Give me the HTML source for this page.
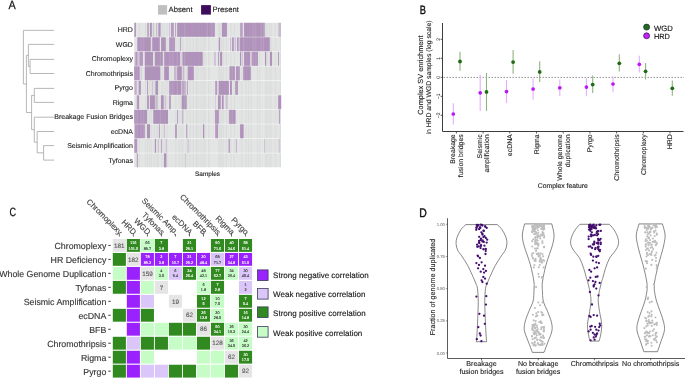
<!DOCTYPE html>
<html><head><meta charset="utf-8"><style>
html,body{margin:0;padding:0;background:#fff;}
body{width:685px;height:379px;overflow:hidden;}
svg{display:block;font-family:"Liberation Sans",sans-serif;will-change:transform;text-rendering:geometricPrecision;}
</style></head><body>
<svg width="685" height="379" viewBox="0 0 685 379">
<rect width="685" height="379" fill="#fff"/>
<text x="8.5" y="8.8" font-size="12" fill="#111" stroke="#111" stroke-width="0.25" transform="translate(8.5 0) scale(0.9 1) translate(-8.5 0)">A</text>
<rect x="158" y="5.1" width="9.1" height="9.5" fill="#bfbfbf"/>
<text stroke="#222" stroke-width="0.12" x="168.6" y="12.4" font-size="7.7" fill="#222">Absent</text>
<rect x="201.1" y="5.1" width="9.8" height="9.5" fill="#3d0c5c"/>
<text stroke="#222" stroke-width="0.12" x="212.4" y="12.4" font-size="7.7" fill="#222">Present</text>
<path d="M23.4 30.35L54.2 30.35M28.4 44.4L54.2 44.4M30.1 59.4L54.2 59.4M30.1 73.5L54.2 73.5M30.1 59.4L30.1 73.5M28.4 66.45L30.1 66.45M28.4 44.4L28.4 66.45M26.4 55.42L28.4 55.42M34.3 88.4L54.2 88.4M34.3 102.4L54.2 102.4M34.3 88.4L34.3 102.4M31.6 95.4L34.3 95.4M43.6 145.6L54.2 145.6M43.6 160.1L54.2 160.1M43.6 145.6L43.6 160.1M37.2 152.85L43.6 152.85M37.2 131.5L54.2 131.5M37.2 131.5L37.2 152.85M34.3 142.18L37.2 142.18M34.3 117.2L54.2 117.2M34.3 117.2L34.3 142.18M31.6 129.69L34.3 129.69M31.6 95.4L31.6 129.69M26.4 112.54L31.6 112.54M26.4 55.42L26.4 112.54M23.4 83.98L26.4 83.98M23.4 30.35L23.4 83.98" stroke="#a4a4a4" stroke-width="0.8" fill="none"/>
<text stroke="#222" stroke-width="0.11" x="132.9" y="32.1" font-size="7" fill="#222" text-anchor="end">HRD</text>
<text stroke="#222" stroke-width="0.11" x="132.9" y="46.6" font-size="7" fill="#222" text-anchor="end">WGD</text>
<text stroke="#222" stroke-width="0.11" x="132.9" y="61.1" font-size="7" fill="#222" text-anchor="end">Chromoplexy</text>
<text stroke="#222" stroke-width="0.11" x="132.9" y="75.6" font-size="7" fill="#222" text-anchor="end">Chromothripsis</text>
<text stroke="#222" stroke-width="0.11" x="132.9" y="90.1" font-size="7" fill="#222" text-anchor="end">Pyrgo</text>
<text stroke="#222" stroke-width="0.11" x="132.9" y="104.6" font-size="7" fill="#222" text-anchor="end">Rigma</text>
<text stroke="#222" stroke-width="0.11" x="132.9" y="119.1" font-size="7" fill="#222" text-anchor="end">Breakage Fusion Bridges</text>
<text stroke="#222" stroke-width="0.11" x="132.9" y="133.6" font-size="7" fill="#222" text-anchor="end">ecDNA</text>
<text stroke="#222" stroke-width="0.11" x="132.9" y="148.1" font-size="7" fill="#222" text-anchor="end">Seismic Amplification</text>
<text stroke="#222" stroke-width="0.11" x="132.9" y="162.6" font-size="7" fill="#222" text-anchor="end">Tyfonas</text>
<rect x="134.1" y="22.8" width="146.9" height="14" fill="#e2e3e3"/>
<rect x="134.3" y="22.8" width="1.7" height="14" fill="rgb(178,146,190)"/>
<rect x="147.2" y="22.8" width="1.7" height="14" fill="rgb(192,170,201)"/>
<rect x="150" y="22.8" width="1.8" height="14" fill="rgb(178,146,190)"/>
<rect x="153.3" y="22.8" width="0.7" height="14" fill="rgb(202,186,208)"/>
<rect x="156" y="22.8" width="0.9" height="14" fill="rgb(202,186,208)"/>
<rect x="158.4" y="22.8" width="2.3" height="14" fill="rgb(178,146,190)"/>
<rect x="169.1" y="22.8" width="0.8" height="14" fill="rgb(202,186,208)"/>
<rect x="171.1" y="22.8" width="2.6" height="14" fill="rgb(178,146,190)"/>
<rect x="175.2" y="22.8" width="0.7" height="14" fill="rgb(178,146,190)"/>
<rect x="177" y="22.8" width="38" height="14" fill="rgb(178,146,190)"/>
<rect x="222" y="22.8" width="4.9" height="14" fill="rgb(178,146,190)"/>
<rect x="240.1" y="22.8" width="2.5" height="14" fill="rgb(188,162,197)"/>
<rect x="244" y="22.8" width="20.7" height="14" fill="rgb(178,146,190)"/>
<rect x="278.2" y="22.8" width="2.7" height="14" fill="rgb(202,186,208)"/>
<rect x="134.1" y="37.3" width="146.9" height="14" fill="#e2e3e3"/>
<rect x="137.2" y="37.3" width="13.6" height="14" fill="rgb(178,146,190)"/>
<rect x="152.2" y="37.3" width="7.6" height="14" fill="rgb(178,146,190)"/>
<rect x="161.1" y="37.3" width="4.7" height="14" fill="rgb(178,146,190)"/>
<rect x="169.1" y="37.3" width="5.8" height="14" fill="rgb(178,146,190)"/>
<rect x="180.1" y="37.3" width="0.7" height="14" fill="rgb(178,146,190)"/>
<rect x="218.8" y="37.3" width="1.1" height="14" fill="rgb(178,146,190)"/>
<rect x="230" y="37.3" width="0.8" height="14" fill="rgb(202,186,208)"/>
<rect x="232" y="37.3" width="1.8" height="14" fill="rgb(178,146,190)"/>
<rect x="234.9" y="37.3" width="1.1" height="14" fill="rgb(202,186,208)"/>
<rect x="237.1" y="37.3" width="1.7" height="14" fill="rgb(178,146,190)"/>
<rect x="239.6" y="37.3" width="30.1" height="14" fill="rgb(178,146,190)"/>
<rect x="134.1" y="51.8" width="146.9" height="14" fill="#e2e3e3"/>
<rect x="134.6" y="51.8" width="0.8" height="14" fill="rgb(202,186,208)"/>
<rect x="135.4" y="51.8" width="2.2" height="14" fill="rgb(178,146,190)"/>
<rect x="138.3" y="51.8" width="1.5" height="14" fill="rgb(202,186,208)"/>
<rect x="139.8" y="51.8" width="3.1" height="14" fill="rgb(178,146,190)"/>
<rect x="144.8" y="51.8" width="8.2" height="14" fill="rgb(178,146,190)"/>
<rect x="154.9" y="51.8" width="7.9" height="14" fill="rgb(178,146,190)"/>
<rect x="164.2" y="51.8" width="15.9" height="14" fill="rgb(178,146,190)"/>
<rect x="181.7" y="51.8" width="1.1" height="14" fill="rgb(202,186,208)"/>
<rect x="182.8" y="51.8" width="19.9" height="14" fill="rgb(178,146,190)"/>
<rect x="214.1" y="51.8" width="1.7" height="14" fill="rgb(202,186,208)"/>
<rect x="218" y="51.8" width="0.8" height="14" fill="rgb(178,146,190)"/>
<rect x="220.1" y="51.8" width="1.9" height="14" fill="rgb(178,146,190)"/>
<rect x="240" y="51.8" width="1" height="14" fill="rgb(178,146,190)"/>
<rect x="241.8" y="51.8" width="0.8" height="14" fill="rgb(202,186,208)"/>
<rect x="244" y="51.8" width="6.2" height="14" fill="rgb(178,146,190)"/>
<rect x="251.7" y="51.8" width="6.2" height="14" fill="rgb(178,146,190)"/>
<rect x="265" y="51.8" width="1.1" height="14" fill="rgb(178,146,190)"/>
<rect x="270" y="51.8" width="2" height="14" fill="rgb(178,146,190)"/>
<rect x="278" y="51.8" width="1" height="14" fill="rgb(178,146,190)"/>
<rect x="134.1" y="66.3" width="146.9" height="14" fill="#e2e3e3"/>
<rect x="134.1" y="66.3" width="5.5" height="14" fill="rgb(178,146,190)"/>
<rect x="140.7" y="66.3" width="0.8" height="14" fill="rgb(202,186,208)"/>
<rect x="144.8" y="66.3" width="15.6" height="14" fill="rgb(178,146,190)"/>
<rect x="164.2" y="66.3" width="4.7" height="14" fill="rgb(178,146,190)"/>
<rect x="174" y="66.3" width="2.2" height="14" fill="rgb(202,186,208)"/>
<rect x="176.8" y="66.3" width="4.9" height="14" fill="rgb(178,146,190)"/>
<rect x="182.8" y="66.3" width="1.7" height="14" fill="rgb(202,186,208)"/>
<rect x="187.7" y="66.3" width="6.1" height="14" fill="rgb(178,146,190)"/>
<rect x="229.4" y="66.3" width="5.5" height="14" fill="rgb(178,146,190)"/>
<rect x="236" y="66.3" width="3.8" height="14" fill="rgb(178,146,190)"/>
<rect x="243.1" y="66.3" width="7.7" height="14" fill="rgb(178,146,190)"/>
<rect x="134.1" y="80.8" width="146.9" height="14" fill="#e2e3e3"/>
<rect x="134.6" y="80.8" width="1.1" height="14" fill="rgb(178,146,190)"/>
<rect x="136" y="80.8" width="1.2" height="14" fill="rgb(202,186,208)"/>
<rect x="138.7" y="80.8" width="2.2" height="14" fill="rgb(178,146,190)"/>
<rect x="147" y="80.8" width="0.8" height="14" fill="rgb(178,146,190)"/>
<rect x="152.2" y="80.8" width="0.8" height="14" fill="rgb(202,186,208)"/>
<rect x="155.4" y="80.8" width="2.6" height="14" fill="rgb(178,146,190)"/>
<rect x="169.1" y="80.8" width="12.1" height="14" fill="rgb(178,146,190)"/>
<rect x="181.7" y="80.8" width="3.9" height="14" fill="rgb(192,170,201)"/>
<rect x="186.9" y="80.8" width="0.8" height="14" fill="rgb(178,146,190)"/>
<rect x="215.2" y="80.8" width="1.9" height="14" fill="rgb(178,146,190)"/>
<rect x="218.7" y="80.8" width="10.2" height="14" fill="rgb(178,146,190)"/>
<rect x="230" y="80.8" width="2" height="14" fill="rgb(178,146,190)"/>
<rect x="235.2" y="80.8" width="2.7" height="14" fill="rgb(178,146,190)"/>
<rect x="134.1" y="95.3" width="146.9" height="14" fill="#e2e3e3"/>
<rect x="136.8" y="95.3" width="2.2" height="14" fill="rgb(178,146,190)"/>
<rect x="147.2" y="95.3" width="1.7" height="14" fill="rgb(178,146,190)"/>
<rect x="150" y="95.3" width="4.9" height="14" fill="rgb(178,146,190)"/>
<rect x="155.4" y="95.3" width="2.2" height="14" fill="rgb(202,186,208)"/>
<rect x="160.9" y="95.3" width="2.8" height="14" fill="rgb(178,146,190)"/>
<rect x="164.8" y="95.3" width="1" height="14" fill="rgb(202,186,208)"/>
<rect x="169.1" y="95.3" width="1.7" height="14" fill="rgb(178,146,190)"/>
<rect x="181.7" y="95.3" width="5" height="14" fill="rgb(178,146,190)"/>
<rect x="214.9" y="95.3" width="0.6" height="14" fill="rgb(202,186,208)"/>
<rect x="218" y="95.3" width="2.7" height="14" fill="rgb(178,146,190)"/>
<rect x="222" y="95.3" width="1.6" height="14" fill="rgb(178,146,190)"/>
<rect x="225.6" y="95.3" width="2.2" height="14" fill="rgb(207,195,212)"/>
<rect x="278" y="95.3" width="3.2" height="14" fill="rgb(178,146,190)"/>
<rect x="134.1" y="109.8" width="146.9" height="14" fill="#e2e3e3"/>
<rect x="134.1" y="109.8" width="12.9" height="14" fill="rgb(178,146,190)"/>
<rect x="153.3" y="109.8" width="14.7" height="14" fill="rgb(178,146,190)"/>
<rect x="177" y="109.8" width="0.9" height="14" fill="rgb(178,146,190)"/>
<rect x="182" y="109.8" width="1.4" height="14" fill="rgb(202,186,208)"/>
<rect x="214.9" y="109.8" width="3.9" height="14" fill="rgb(178,146,190)"/>
<rect x="228.9" y="109.8" width="6.8" height="14" fill="rgb(178,146,190)"/>
<rect x="278.9" y="109.8" width="0.9" height="14" fill="rgb(178,146,190)"/>
<rect x="134.1" y="124.3" width="146.9" height="14" fill="#e2e3e3"/>
<rect x="134.6" y="124.3" width="10.2" height="14" fill="rgb(178,146,190)"/>
<rect x="147" y="124.3" width="3" height="14" fill="rgb(178,146,190)"/>
<rect x="159" y="124.3" width="0.8" height="14" fill="rgb(178,146,190)"/>
<rect x="163.9" y="124.3" width="0.9" height="14" fill="rgb(202,186,208)"/>
<rect x="175.2" y="124.3" width="1.6" height="14" fill="rgb(178,146,190)"/>
<rect x="186.3" y="124.3" width="0.9" height="14" fill="rgb(178,146,190)"/>
<rect x="203" y="124.3" width="1.2" height="14" fill="rgb(178,146,190)"/>
<rect x="215.2" y="124.3" width="2.8" height="14" fill="rgb(178,146,190)"/>
<rect x="240.1" y="124.3" width="3.6" height="14" fill="rgb(178,146,190)"/>
<rect x="134.1" y="138.8" width="146.9" height="14" fill="#e2e3e3"/>
<rect x="134.3" y="138.8" width="2.9" height="14" fill="rgb(178,146,190)"/>
<rect x="154.9" y="138.8" width="1.1" height="14" fill="rgb(178,146,190)"/>
<rect x="158" y="138.8" width="0.7" height="14" fill="rgb(202,186,208)"/>
<rect x="160.9" y="138.8" width="0.8" height="14" fill="rgb(178,146,190)"/>
<rect x="165.8" y="138.8" width="0.9" height="14" fill="rgb(202,186,208)"/>
<rect x="187.7" y="138.8" width="0.9" height="14" fill="rgb(202,186,208)"/>
<rect x="228.6" y="138.8" width="1.4" height="14" fill="rgb(178,146,190)"/>
<rect x="235.8" y="138.8" width="1.1" height="14" fill="rgb(197,178,205)"/>
<rect x="264" y="138.8" width="1" height="14" fill="rgb(207,195,212)"/>
<rect x="278.5" y="138.8" width="1.3" height="14" fill="rgb(207,195,212)"/>
<rect x="134.1" y="153.3" width="146.9" height="14" fill="#e2e3e3"/>
<rect x="136.8" y="153.3" width="1.1" height="14" fill="rgb(178,146,190)"/>
<rect x="164" y="153.3" width="2.4" height="14" fill="rgb(178,146,190)"/>
<rect x="184.8" y="153.3" width="0.8" height="14" fill="rgb(202,186,208)"/>
<path d="M134.9 22.8v14M137.19 22.8v14M140.93 22.8v14M143.8 22.8v14M160.59 22.8v14M170 22.8v14M172.8 22.8v14M177.27 22.8v14M184.75 22.8v14M207.33 22.8v14M211.84 22.8v14M214.64 22.8v14M216.14 22.8v14M229.68 22.8v14M232.29 22.8v14M235.82 22.8v14M238.76 22.8v14M243.83 22.8v14M253.12 22.8v14M255.76 22.8v14M261.02 22.8v14M263.38 22.8v14M273.85 22.8v14M278.3 22.8v14" stroke="#ffffff" stroke-opacity="0.22" stroke-width="0.6"/>
<path d="M139.6 22.8v14M145.47 22.8v14M147.61 22.8v14M149.76 22.8v14M151.27 22.8v14M154.2 22.8v14M156.88 22.8v14M158.21 22.8v14M161.86 22.8v14M164 22.8v14M166.96 22.8v14M175.87 22.8v14M178.9 22.8v14M180.98 22.8v14M182.78 22.8v14M187.12 22.8v14M190.13 22.8v14M193.19 22.8v14M196.37 22.8v14M197.89 22.8v14M201.02 22.8v14M203.36 22.8v14M204.98 22.8v14M208.66 22.8v14M218.88 22.8v14M220.17 22.8v14M221.46 22.8v14M223.32 22.8v14M226.48 22.8v14M231.03 22.8v14M234.31 22.8v14M241.87 22.8v14M246.07 22.8v14M248.46 22.8v14M250.9 22.8v14M257.56 22.8v14M259.8 22.8v14M265.81 22.8v14M267.14 22.8v14M269.27 22.8v14M271.17 22.8v14M275.17 22.8v14M280.41 22.8v14" stroke="#8a8a8a" stroke-opacity="0.13" stroke-width="0.6"/>
<path d="M135.4 22.8v14M148.11 22.8v14M151.77 22.8v14M173.3 22.8v14M179.4 22.8v14M181.48 22.8v14M185.25 22.8v14M187.62 22.8v14M193.69 22.8v14M196.87 22.8v14M201.52 22.8v14M203.86 22.8v14M205.48 22.8v14M209.16 22.8v14M212.34 22.8v14M223.82 22.8v14M242.37 22.8v14M248.96 22.8v14M251.4 22.8v14M258.06 22.8v14M260.3 22.8v14M261.52 22.8v14M263.88 22.8v14" stroke="#a8a8a8" stroke-opacity="0.4" stroke-width="0.7"/>
<path d="M134.9 37.3v14M137.19 37.3v14M140.93 37.3v14M143.8 37.3v14M160.59 37.3v14M170 37.3v14M172.8 37.3v14M177.27 37.3v14M184.75 37.3v14M207.33 37.3v14M211.84 37.3v14M214.64 37.3v14M216.14 37.3v14M229.68 37.3v14M232.29 37.3v14M235.82 37.3v14M238.76 37.3v14M243.83 37.3v14M253.12 37.3v14M255.76 37.3v14M261.02 37.3v14M263.38 37.3v14M273.85 37.3v14M278.3 37.3v14" stroke="#ffffff" stroke-opacity="0.22" stroke-width="0.6"/>
<path d="M139.6 37.3v14M145.47 37.3v14M147.61 37.3v14M149.76 37.3v14M151.27 37.3v14M154.2 37.3v14M156.88 37.3v14M158.21 37.3v14M161.86 37.3v14M164 37.3v14M166.96 37.3v14M175.87 37.3v14M178.9 37.3v14M180.98 37.3v14M182.78 37.3v14M187.12 37.3v14M190.13 37.3v14M193.19 37.3v14M196.37 37.3v14M197.89 37.3v14M201.02 37.3v14M203.36 37.3v14M204.98 37.3v14M208.66 37.3v14M218.88 37.3v14M220.17 37.3v14M221.46 37.3v14M223.32 37.3v14M226.48 37.3v14M231.03 37.3v14M234.31 37.3v14M241.87 37.3v14M246.07 37.3v14M248.46 37.3v14M250.9 37.3v14M257.56 37.3v14M259.8 37.3v14M265.81 37.3v14M267.14 37.3v14M269.27 37.3v14M271.17 37.3v14M275.17 37.3v14M280.41 37.3v14" stroke="#8a8a8a" stroke-opacity="0.13" stroke-width="0.6"/>
<path d="M140.1 37.3v14M145.97 37.3v14M148.11 37.3v14M158.71 37.3v14M162.36 37.3v14M164.5 37.3v14M173.3 37.3v14M242.37 37.3v14M244.33 37.3v14M246.57 37.3v14M248.96 37.3v14M253.62 37.3v14M256.26 37.3v14M263.88 37.3v14M269.77 37.3v14" stroke="#a8a8a8" stroke-opacity="0.4" stroke-width="0.7"/>
<path d="M134.9 51.8v14M137.19 51.8v14M140.93 51.8v14M143.8 51.8v14M160.59 51.8v14M170 51.8v14M172.8 51.8v14M177.27 51.8v14M184.75 51.8v14M207.33 51.8v14M211.84 51.8v14M214.64 51.8v14M216.14 51.8v14M229.68 51.8v14M232.29 51.8v14M235.82 51.8v14M238.76 51.8v14M243.83 51.8v14M253.12 51.8v14M255.76 51.8v14M261.02 51.8v14M263.38 51.8v14M273.85 51.8v14M278.3 51.8v14" stroke="#ffffff" stroke-opacity="0.22" stroke-width="0.6"/>
<path d="M139.6 51.8v14M145.47 51.8v14M147.61 51.8v14M149.76 51.8v14M151.27 51.8v14M154.2 51.8v14M156.88 51.8v14M158.21 51.8v14M161.86 51.8v14M164 51.8v14M166.96 51.8v14M175.87 51.8v14M178.9 51.8v14M180.98 51.8v14M182.78 51.8v14M187.12 51.8v14M190.13 51.8v14M193.19 51.8v14M196.37 51.8v14M197.89 51.8v14M201.02 51.8v14M203.36 51.8v14M204.98 51.8v14M208.66 51.8v14M218.88 51.8v14M220.17 51.8v14M221.46 51.8v14M223.32 51.8v14M226.48 51.8v14M231.03 51.8v14M234.31 51.8v14M241.87 51.8v14M246.07 51.8v14M248.46 51.8v14M250.9 51.8v14M257.56 51.8v14M259.8 51.8v14M265.81 51.8v14M267.14 51.8v14M269.27 51.8v14M271.17 51.8v14M275.17 51.8v14M280.41 51.8v14" stroke="#8a8a8a" stroke-opacity="0.13" stroke-width="0.6"/>
<path d="M148.11 51.8v14M150.26 51.8v14M151.77 51.8v14M157.38 51.8v14M158.71 51.8v14M161.09 51.8v14M162.36 51.8v14M170.5 51.8v14M187.62 51.8v14M190.63 51.8v14M196.87 51.8v14M198.39 51.8v14M221.96 51.8v14M246.57 51.8v14M256.26 51.8v14M271.67 51.8v14" stroke="#a8a8a8" stroke-opacity="0.4" stroke-width="0.7"/>
<path d="M134.9 66.3v14M137.19 66.3v14M140.93 66.3v14M143.8 66.3v14M160.59 66.3v14M170 66.3v14M172.8 66.3v14M177.27 66.3v14M184.75 66.3v14M207.33 66.3v14M211.84 66.3v14M214.64 66.3v14M216.14 66.3v14M229.68 66.3v14M232.29 66.3v14M235.82 66.3v14M238.76 66.3v14M243.83 66.3v14M253.12 66.3v14M255.76 66.3v14M261.02 66.3v14M263.38 66.3v14M273.85 66.3v14M278.3 66.3v14" stroke="#ffffff" stroke-opacity="0.22" stroke-width="0.6"/>
<path d="M139.6 66.3v14M145.47 66.3v14M147.61 66.3v14M149.76 66.3v14M151.27 66.3v14M154.2 66.3v14M156.88 66.3v14M158.21 66.3v14M161.86 66.3v14M164 66.3v14M166.96 66.3v14M175.87 66.3v14M178.9 66.3v14M180.98 66.3v14M182.78 66.3v14M187.12 66.3v14M190.13 66.3v14M193.19 66.3v14M196.37 66.3v14M197.89 66.3v14M201.02 66.3v14M203.36 66.3v14M204.98 66.3v14M208.66 66.3v14M218.88 66.3v14M220.17 66.3v14M221.46 66.3v14M223.32 66.3v14M226.48 66.3v14M231.03 66.3v14M234.31 66.3v14M241.87 66.3v14M246.07 66.3v14M248.46 66.3v14M250.9 66.3v14M257.56 66.3v14M259.8 66.3v14M265.81 66.3v14M267.14 66.3v14M269.27 66.3v14M271.17 66.3v14M275.17 66.3v14M280.41 66.3v14" stroke="#8a8a8a" stroke-opacity="0.13" stroke-width="0.6"/>
<path d="M137.69 66.3v14M148.11 66.3v14M150.26 66.3v14M151.77 66.3v14M157.38 66.3v14M181.48 66.3v14M231.53 66.3v14M232.79 66.3v14M234.81 66.3v14M239.26 66.3v14M244.33 66.3v14M246.57 66.3v14" stroke="#a8a8a8" stroke-opacity="0.4" stroke-width="0.7"/>
<path d="M134.9 80.8v14M137.19 80.8v14M140.93 80.8v14M143.8 80.8v14M160.59 80.8v14M170 80.8v14M172.8 80.8v14M177.27 80.8v14M184.75 80.8v14M207.33 80.8v14M211.84 80.8v14M214.64 80.8v14M216.14 80.8v14M229.68 80.8v14M232.29 80.8v14M235.82 80.8v14M238.76 80.8v14M243.83 80.8v14M253.12 80.8v14M255.76 80.8v14M261.02 80.8v14M263.38 80.8v14M273.85 80.8v14M278.3 80.8v14" stroke="#ffffff" stroke-opacity="0.22" stroke-width="0.6"/>
<path d="M139.6 80.8v14M145.47 80.8v14M147.61 80.8v14M149.76 80.8v14M151.27 80.8v14M154.2 80.8v14M156.88 80.8v14M158.21 80.8v14M161.86 80.8v14M164 80.8v14M166.96 80.8v14M175.87 80.8v14M178.9 80.8v14M180.98 80.8v14M182.78 80.8v14M187.12 80.8v14M190.13 80.8v14M193.19 80.8v14M196.37 80.8v14M197.89 80.8v14M201.02 80.8v14M203.36 80.8v14M204.98 80.8v14M208.66 80.8v14M218.88 80.8v14M220.17 80.8v14M221.46 80.8v14M223.32 80.8v14M226.48 80.8v14M231.03 80.8v14M234.31 80.8v14M241.87 80.8v14M246.07 80.8v14M248.46 80.8v14M250.9 80.8v14M257.56 80.8v14M259.8 80.8v14M265.81 80.8v14M267.14 80.8v14M269.27 80.8v14M271.17 80.8v14M275.17 80.8v14M280.41 80.8v14" stroke="#8a8a8a" stroke-opacity="0.13" stroke-width="0.6"/>
<path d="M140.1 80.8v14M157.38 80.8v14M170.5 80.8v14M173.3 80.8v14M176.37 80.8v14M183.28 80.8v14M185.25 80.8v14M216.64 80.8v14M220.67 80.8v14M221.96 80.8v14M226.98 80.8v14M231.53 80.8v14M236.32 80.8v14" stroke="#a8a8a8" stroke-opacity="0.4" stroke-width="0.7"/>
<path d="M134.9 95.3v14M137.19 95.3v14M140.93 95.3v14M143.8 95.3v14M160.59 95.3v14M170 95.3v14M172.8 95.3v14M177.27 95.3v14M184.75 95.3v14M207.33 95.3v14M211.84 95.3v14M214.64 95.3v14M216.14 95.3v14M229.68 95.3v14M232.29 95.3v14M235.82 95.3v14M238.76 95.3v14M243.83 95.3v14M253.12 95.3v14M255.76 95.3v14M261.02 95.3v14M263.38 95.3v14M273.85 95.3v14M278.3 95.3v14" stroke="#ffffff" stroke-opacity="0.22" stroke-width="0.6"/>
<path d="M139.6 95.3v14M145.47 95.3v14M147.61 95.3v14M149.76 95.3v14M151.27 95.3v14M154.2 95.3v14M156.88 95.3v14M158.21 95.3v14M161.86 95.3v14M164 95.3v14M166.96 95.3v14M175.87 95.3v14M178.9 95.3v14M180.98 95.3v14M182.78 95.3v14M187.12 95.3v14M190.13 95.3v14M193.19 95.3v14M196.37 95.3v14M197.89 95.3v14M201.02 95.3v14M203.36 95.3v14M204.98 95.3v14M208.66 95.3v14M218.88 95.3v14M220.17 95.3v14M221.46 95.3v14M223.32 95.3v14M226.48 95.3v14M231.03 95.3v14M234.31 95.3v14M241.87 95.3v14M246.07 95.3v14M248.46 95.3v14M250.9 95.3v14M257.56 95.3v14M259.8 95.3v14M265.81 95.3v14M267.14 95.3v14M269.27 95.3v14M271.17 95.3v14M275.17 95.3v14M280.41 95.3v14" stroke="#8a8a8a" stroke-opacity="0.13" stroke-width="0.6"/>
<path d="M148.11 95.3v14M151.77 95.3v14M154.7 95.3v14M170.5 95.3v14M183.28 95.3v14M185.25 95.3v14M219.38 95.3v14" stroke="#a8a8a8" stroke-opacity="0.4" stroke-width="0.7"/>
<path d="M134.9 109.8v14M137.19 109.8v14M140.93 109.8v14M143.8 109.8v14M160.59 109.8v14M170 109.8v14M172.8 109.8v14M177.27 109.8v14M184.75 109.8v14M207.33 109.8v14M211.84 109.8v14M214.64 109.8v14M216.14 109.8v14M229.68 109.8v14M232.29 109.8v14M235.82 109.8v14M238.76 109.8v14M243.83 109.8v14M253.12 109.8v14M255.76 109.8v14M261.02 109.8v14M263.38 109.8v14M273.85 109.8v14M278.3 109.8v14" stroke="#ffffff" stroke-opacity="0.22" stroke-width="0.6"/>
<path d="M139.6 109.8v14M145.47 109.8v14M147.61 109.8v14M149.76 109.8v14M151.27 109.8v14M154.2 109.8v14M156.88 109.8v14M158.21 109.8v14M161.86 109.8v14M164 109.8v14M166.96 109.8v14M175.87 109.8v14M178.9 109.8v14M180.98 109.8v14M182.78 109.8v14M187.12 109.8v14M190.13 109.8v14M193.19 109.8v14M196.37 109.8v14M197.89 109.8v14M201.02 109.8v14M203.36 109.8v14M204.98 109.8v14M208.66 109.8v14M218.88 109.8v14M220.17 109.8v14M221.46 109.8v14M223.32 109.8v14M226.48 109.8v14M231.03 109.8v14M234.31 109.8v14M241.87 109.8v14M246.07 109.8v14M248.46 109.8v14M250.9 109.8v14M257.56 109.8v14M259.8 109.8v14M265.81 109.8v14M267.14 109.8v14M269.27 109.8v14M271.17 109.8v14M275.17 109.8v14M280.41 109.8v14" stroke="#8a8a8a" stroke-opacity="0.13" stroke-width="0.6"/>
<path d="M135.4 109.8v14M141.43 109.8v14M144.3 109.8v14M145.97 109.8v14M157.38 109.8v14M161.09 109.8v14M162.36 109.8v14M164.5 109.8v14M216.64 109.8v14M230.18 109.8v14M231.53 109.8v14" stroke="#a8a8a8" stroke-opacity="0.4" stroke-width="0.7"/>
<path d="M134.9 124.3v14M137.19 124.3v14M140.93 124.3v14M143.8 124.3v14M160.59 124.3v14M170 124.3v14M172.8 124.3v14M177.27 124.3v14M184.75 124.3v14M207.33 124.3v14M211.84 124.3v14M214.64 124.3v14M216.14 124.3v14M229.68 124.3v14M232.29 124.3v14M235.82 124.3v14M238.76 124.3v14M243.83 124.3v14M253.12 124.3v14M255.76 124.3v14M261.02 124.3v14M263.38 124.3v14M273.85 124.3v14M278.3 124.3v14" stroke="#ffffff" stroke-opacity="0.22" stroke-width="0.6"/>
<path d="M139.6 124.3v14M145.47 124.3v14M147.61 124.3v14M149.76 124.3v14M151.27 124.3v14M154.2 124.3v14M156.88 124.3v14M158.21 124.3v14M161.86 124.3v14M164 124.3v14M166.96 124.3v14M175.87 124.3v14M178.9 124.3v14M180.98 124.3v14M182.78 124.3v14M187.12 124.3v14M190.13 124.3v14M193.19 124.3v14M196.37 124.3v14M197.89 124.3v14M201.02 124.3v14M203.36 124.3v14M204.98 124.3v14M208.66 124.3v14M218.88 124.3v14M220.17 124.3v14M221.46 124.3v14M223.32 124.3v14M226.48 124.3v14M231.03 124.3v14M234.31 124.3v14M241.87 124.3v14M246.07 124.3v14M248.46 124.3v14M250.9 124.3v14M257.56 124.3v14M259.8 124.3v14M265.81 124.3v14M267.14 124.3v14M269.27 124.3v14M271.17 124.3v14M275.17 124.3v14M280.41 124.3v14" stroke="#8a8a8a" stroke-opacity="0.13" stroke-width="0.6"/>
<path d="M137.69 124.3v14M144.3 124.3v14M148.11 124.3v14M176.37 124.3v14" stroke="#a8a8a8" stroke-opacity="0.4" stroke-width="0.7"/>
<path d="M134.9 138.8v14M137.19 138.8v14M140.93 138.8v14M143.8 138.8v14M160.59 138.8v14M170 138.8v14M172.8 138.8v14M177.27 138.8v14M184.75 138.8v14M207.33 138.8v14M211.84 138.8v14M214.64 138.8v14M216.14 138.8v14M229.68 138.8v14M232.29 138.8v14M235.82 138.8v14M238.76 138.8v14M243.83 138.8v14M253.12 138.8v14M255.76 138.8v14M261.02 138.8v14M263.38 138.8v14M273.85 138.8v14M278.3 138.8v14" stroke="#ffffff" stroke-opacity="0.22" stroke-width="0.6"/>
<path d="M139.6 138.8v14M145.47 138.8v14M147.61 138.8v14M149.76 138.8v14M151.27 138.8v14M154.2 138.8v14M156.88 138.8v14M158.21 138.8v14M161.86 138.8v14M164 138.8v14M166.96 138.8v14M175.87 138.8v14M178.9 138.8v14M180.98 138.8v14M182.78 138.8v14M187.12 138.8v14M190.13 138.8v14M193.19 138.8v14M196.37 138.8v14M197.89 138.8v14M201.02 138.8v14M203.36 138.8v14M204.98 138.8v14M208.66 138.8v14M218.88 138.8v14M220.17 138.8v14M221.46 138.8v14M223.32 138.8v14M226.48 138.8v14M231.03 138.8v14M234.31 138.8v14M241.87 138.8v14M246.07 138.8v14M248.46 138.8v14M250.9 138.8v14M257.56 138.8v14M259.8 138.8v14M265.81 138.8v14M267.14 138.8v14M269.27 138.8v14M271.17 138.8v14M275.17 138.8v14M280.41 138.8v14" stroke="#8a8a8a" stroke-opacity="0.13" stroke-width="0.6"/>
<path d="M134.9 153.3v14M137.19 153.3v14M140.93 153.3v14M143.8 153.3v14M160.59 153.3v14M170 153.3v14M172.8 153.3v14M177.27 153.3v14M184.75 153.3v14M207.33 153.3v14M211.84 153.3v14M214.64 153.3v14M216.14 153.3v14M229.68 153.3v14M232.29 153.3v14M235.82 153.3v14M238.76 153.3v14M243.83 153.3v14M253.12 153.3v14M255.76 153.3v14M261.02 153.3v14M263.38 153.3v14M273.85 153.3v14M278.3 153.3v14" stroke="#ffffff" stroke-opacity="0.22" stroke-width="0.6"/>
<path d="M139.6 153.3v14M145.47 153.3v14M147.61 153.3v14M149.76 153.3v14M151.27 153.3v14M154.2 153.3v14M156.88 153.3v14M158.21 153.3v14M161.86 153.3v14M164 153.3v14M166.96 153.3v14M175.87 153.3v14M178.9 153.3v14M180.98 153.3v14M182.78 153.3v14M187.12 153.3v14M190.13 153.3v14M193.19 153.3v14M196.37 153.3v14M197.89 153.3v14M201.02 153.3v14M203.36 153.3v14M204.98 153.3v14M208.66 153.3v14M218.88 153.3v14M220.17 153.3v14M221.46 153.3v14M223.32 153.3v14M226.48 153.3v14M231.03 153.3v14M234.31 153.3v14M241.87 153.3v14M246.07 153.3v14M248.46 153.3v14M250.9 153.3v14M257.56 153.3v14M259.8 153.3v14M265.81 153.3v14M267.14 153.3v14M269.27 153.3v14M271.17 153.3v14M275.17 153.3v14M280.41 153.3v14" stroke="#8a8a8a" stroke-opacity="0.13" stroke-width="0.6"/>
<text stroke="#111" stroke-width="0.1" x="207.5" y="175.6" font-size="6.4" fill="#111" text-anchor="middle">Samples</text>
<text x="419.7" y="13.7" font-size="11.9" fill="#111" stroke="#111" stroke-width="0.4" transform="translate(419.7 0) scale(0.78 1) translate(-419.7 0)">B</text>
<path d="M442.5 23V131.5H683.5" stroke="#333" stroke-width="0.95" fill="none"/>
<path d="M440.6 39.3H442.5" stroke="#333" stroke-width="0.8"/>
<text stroke="#444" stroke-width="0.08" transform="translate(440 39.3) rotate(-90)" font-size="5" fill="#444" text-anchor="middle">2</text>
<path d="M440.6 58.3H442.5" stroke="#333" stroke-width="0.8"/>
<text stroke="#444" stroke-width="0.08" transform="translate(440 58.3) rotate(-90)" font-size="5" fill="#444" text-anchor="middle">1</text>
<path d="M440.6 77.3H442.5" stroke="#333" stroke-width="0.8"/>
<text stroke="#444" stroke-width="0.08" transform="translate(440 77.3) rotate(-90)" font-size="5" fill="#444" text-anchor="middle">0</text>
<path d="M440.6 96.3H442.5" stroke="#333" stroke-width="0.8"/>
<text stroke="#444" stroke-width="0.08" transform="translate(440 96.3) rotate(-90)" font-size="5" fill="#444" text-anchor="middle">−1</text>
<path d="M440.6 115.3H442.5" stroke="#333" stroke-width="0.8"/>
<text stroke="#444" stroke-width="0.08" transform="translate(440 115.3) rotate(-90)" font-size="5" fill="#444" text-anchor="middle">−2</text>
<path d="M443.5 77.4H684" stroke="#777" stroke-width="0.8" stroke-dasharray="1.5 1.5"/>
<text stroke="#222" stroke-width="0.12" transform="translate(422.7 75.1) rotate(-90)" font-size="7.35" fill="#222" text-anchor="middle">Complex SV enrichment</text>
<text stroke="#222" stroke-width="0.11" transform="translate(431.3 77.5) rotate(-90)" font-size="6.8" fill="#222" text-anchor="middle">in HRD and WGD samples (log scale)</text>
<text stroke="#222" stroke-width="0.11" x="562.8" y="187.8" font-size="6.8" fill="#222" text-anchor="middle">Complex feature</text>
<path d="M456.4 131.5V133.5" stroke="#333" stroke-width="0.8"/>
<text stroke="#222" stroke-width="0.11" transform="translate(455 134.3) rotate(-90)" font-size="6.9" fill="#222" text-anchor="end">Breakage</text>
<text stroke="#222" stroke-width="0.11" transform="translate(462.7 134.3) rotate(-90)" font-size="6.9" fill="#222" text-anchor="end">fusion bridges</text>
<path d="M483.1 131.5V133.5" stroke="#333" stroke-width="0.8"/>
<text stroke="#222" stroke-width="0.11" transform="translate(481.7 134.3) rotate(-90)" font-size="6.9" fill="#222" text-anchor="end">Seismic</text>
<text stroke="#222" stroke-width="0.11" transform="translate(489.4 134.3) rotate(-90)" font-size="6.9" fill="#222" text-anchor="end">amplification</text>
<path d="M509.8 131.5V133.5" stroke="#333" stroke-width="0.8"/>
<text stroke="#222" stroke-width="0.11" transform="translate(512.2 134.3) rotate(-90)" font-size="6.9" fill="#222" text-anchor="end">ecDNA</text>
<path d="M536.5 131.5V133.5" stroke="#333" stroke-width="0.8"/>
<text stroke="#222" stroke-width="0.11" transform="translate(538.9 134.3) rotate(-90)" font-size="6.9" fill="#222" text-anchor="end">Rigma</text>
<path d="M563.2 131.5V133.5" stroke="#333" stroke-width="0.8"/>
<text stroke="#222" stroke-width="0.11" transform="translate(561.8 134.3) rotate(-90)" font-size="6.9" fill="#222" text-anchor="end">Whole genome</text>
<text stroke="#222" stroke-width="0.11" transform="translate(569.5 134.3) rotate(-90)" font-size="6.9" fill="#222" text-anchor="end">duplication</text>
<path d="M589.9 131.5V133.5" stroke="#333" stroke-width="0.8"/>
<text stroke="#222" stroke-width="0.11" transform="translate(592.3 134.3) rotate(-90)" font-size="6.9" fill="#222" text-anchor="end">Pyrgo</text>
<path d="M616.6 131.5V133.5" stroke="#333" stroke-width="0.8"/>
<text stroke="#222" stroke-width="0.11" transform="translate(619 134.3) rotate(-90)" font-size="6.9" fill="#222" text-anchor="end">Chromothripsis</text>
<path d="M643.3 131.5V133.5" stroke="#333" stroke-width="0.8"/>
<text stroke="#222" stroke-width="0.11" transform="translate(645.7 134.3) rotate(-90)" font-size="6.9" fill="#222" text-anchor="end">Chromoplexy</text>
<path d="M670 131.5V133.5" stroke="#333" stroke-width="0.8"/>
<text stroke="#222" stroke-width="0.11" transform="translate(672.4 134.3) rotate(-90)" font-size="6.9" fill="#222" text-anchor="end">HRD</text>
<path d="M453.3 103.3V124.5" stroke="#e4aeff" stroke-width="1.1"/>
<circle cx="453.3" cy="114" r="1.85" fill="#bb14f6"/>
<path d="M480.2 74.8V110.9" stroke="#e4aeff" stroke-width="1.1"/>
<circle cx="480.2" cy="92.8" r="1.85" fill="#bb14f6"/>
<path d="M506.5 80V103" stroke="#e4aeff" stroke-width="1.1"/>
<circle cx="506.5" cy="91.6" r="1.85" fill="#bb14f6"/>
<path d="M533.1 78.6V99.8" stroke="#e4aeff" stroke-width="1.1"/>
<circle cx="533.1" cy="89" r="1.85" fill="#bb14f6"/>
<path d="M559.8 79.5V96" stroke="#e4aeff" stroke-width="1.1"/>
<circle cx="559.8" cy="87.8" r="1.85" fill="#bb14f6"/>
<path d="M586.4 78V96.3" stroke="#e4aeff" stroke-width="1.1"/>
<circle cx="586.4" cy="87.1" r="1.85" fill="#bb14f6"/>
<path d="M613 76.4V92.2" stroke="#e4aeff" stroke-width="1.1"/>
<circle cx="613" cy="84" r="1.85" fill="#bb14f6"/>
<path d="M639.3 55.8V72.6" stroke="#e4aeff" stroke-width="1.1"/>
<circle cx="639.3" cy="64.3" r="1.85" fill="#bb14f6"/>
<path d="M460 51.7V70.7" stroke="#8fb37f" stroke-width="1.1"/>
<circle cx="460" cy="61.5" r="1.9" fill="#1f6a14"/>
<path d="M486.5 72.9V110.9" stroke="#8fb37f" stroke-width="1.1"/>
<circle cx="486.5" cy="91.9" r="1.9" fill="#1f6a14"/>
<path d="M513.1 50V73.8" stroke="#8fb37f" stroke-width="1.1"/>
<circle cx="513.1" cy="62.1" r="1.9" fill="#1f6a14"/>
<path d="M539.7 61.2V82" stroke="#8fb37f" stroke-width="1.1"/>
<circle cx="539.7" cy="71.9" r="1.9" fill="#1f6a14"/>
<path d="M592.7 75.4V93.1" stroke="#8fb37f" stroke-width="1.1"/>
<circle cx="592.7" cy="84.6" r="1.9" fill="#1f6a14"/>
<path d="M619.3 54.2V71.6" stroke="#8fb37f" stroke-width="1.1"/>
<circle cx="619.3" cy="63.3" r="1.9" fill="#1f6a14"/>
<path d="M645.6 63V79.5" stroke="#8fb37f" stroke-width="1.1"/>
<circle cx="645.6" cy="71.3" r="1.9" fill="#1f6a14"/>
<path d="M672.3 80.4V95.8" stroke="#8fb37f" stroke-width="1.1"/>
<circle cx="672.3" cy="88.3" r="1.9" fill="#1f6a14"/>
<circle cx="646.6" cy="27.1" r="3.0" fill="#216e17" stroke="#1d2340" stroke-width="0.7"/>
<circle cx="646.6" cy="35.8" r="3.0" fill="#c41ff5" stroke="#2a1a50" stroke-width="0.7"/>
<text stroke="#111" stroke-width="0.12" x="653.9" y="30.5" font-size="7.7" fill="#111">WGD</text>
<text stroke="#111" stroke-width="0.12" x="653.9" y="39.1" font-size="7.4" fill="#111">HRD</text>
<text x="9.4" y="215.8" font-size="12" fill="#111" stroke="#111" stroke-width="0.25" transform="translate(9.4 0) scale(0.76 1) translate(-9.4 0)">C</text>
<text stroke="#363636" stroke-width="0.14" x="106.3" y="249.12" font-size="8.8" fill="#363636" text-anchor="end">Chromoplexy</text>
<path d="M108.3 245.43H110.7" stroke="#333" stroke-width="0.95"/>
<text stroke="#363636" stroke-width="0.14" x="106.3" y="263.09" font-size="8.8" fill="#363636" text-anchor="end">HR Deficiency</text>
<path d="M108.3 259.39H110.7" stroke="#333" stroke-width="0.95"/>
<text stroke="#363636" stroke-width="0.14" x="106.3" y="277.06" font-size="8.8" fill="#363636" text-anchor="end">Whole Genome Duplication</text>
<path d="M108.3 273.37H110.7" stroke="#333" stroke-width="0.95"/>
<text stroke="#363636" stroke-width="0.14" x="106.3" y="291.04" font-size="8.8" fill="#363636" text-anchor="end">Tyfonas</text>
<path d="M108.3 287.34H110.7" stroke="#333" stroke-width="0.95"/>
<text stroke="#363636" stroke-width="0.14" x="106.3" y="305" font-size="8.8" fill="#363636" text-anchor="end">Seismic Amplification</text>
<path d="M108.3 301.31H110.7" stroke="#333" stroke-width="0.95"/>
<text stroke="#363636" stroke-width="0.14" x="106.3" y="318.98" font-size="8.8" fill="#363636" text-anchor="end">ecDNA</text>
<path d="M108.3 315.28H110.7" stroke="#333" stroke-width="0.95"/>
<text stroke="#363636" stroke-width="0.14" x="106.3" y="332.94" font-size="8.8" fill="#363636" text-anchor="end">BFB</text>
<path d="M108.3 329.25H110.7" stroke="#333" stroke-width="0.95"/>
<text stroke="#363636" stroke-width="0.14" x="106.3" y="346.92" font-size="8.8" fill="#363636" text-anchor="end">Chromothripsis</text>
<path d="M108.3 343.22H110.7" stroke="#333" stroke-width="0.95"/>
<text stroke="#363636" stroke-width="0.14" x="106.3" y="360.88" font-size="8.8" fill="#363636" text-anchor="end">Rigma</text>
<path d="M108.3 357.19H110.7" stroke="#333" stroke-width="0.95"/>
<text stroke="#363636" stroke-width="0.14" x="106.3" y="374.86" font-size="8.8" fill="#363636" text-anchor="end">Pyrgo</text>
<path d="M108.3 371.16H110.7" stroke="#333" stroke-width="0.95"/>
<path d="M119.35 234V236.6" stroke="#444" stroke-width="0.8"/>
<text stroke="#444" stroke-width="0.13" transform="translate(119.15 235.2) rotate(45)" font-size="7.95" fill="#444" text-anchor="end">Chromoplexy</text>
<path d="M133.37 234V236.6" stroke="#444" stroke-width="0.8"/>
<text stroke="#444" stroke-width="0.13" transform="translate(133.17 235.2) rotate(45)" font-size="7.95" fill="#444" text-anchor="end">HRD</text>
<path d="M147.39 234V236.6" stroke="#444" stroke-width="0.8"/>
<text stroke="#444" stroke-width="0.13" transform="translate(147.19 235.2) rotate(45)" font-size="7.95" fill="#444" text-anchor="end">WGD</text>
<path d="M161.41 234V236.6" stroke="#444" stroke-width="0.8"/>
<text stroke="#444" stroke-width="0.13" transform="translate(161.21 235.2) rotate(45)" font-size="7.95" fill="#444" text-anchor="end">Tyfonas</text>
<path d="M175.43 234V236.6" stroke="#444" stroke-width="0.8"/>
<text stroke="#444" stroke-width="0.13" transform="translate(175.23 235.2) rotate(45)" font-size="7.95" fill="#444" text-anchor="end">Seismic Amp.</text>
<path d="M189.45 234V236.6" stroke="#444" stroke-width="0.8"/>
<text stroke="#444" stroke-width="0.13" transform="translate(189.25 235.2) rotate(45)" font-size="7.95" fill="#444" text-anchor="end">ecDNA</text>
<path d="M203.47 234V236.6" stroke="#444" stroke-width="0.8"/>
<text stroke="#444" stroke-width="0.13" transform="translate(203.27 235.2) rotate(45)" font-size="7.95" fill="#444" text-anchor="end">BFB</text>
<path d="M217.49 234V236.6" stroke="#444" stroke-width="0.8"/>
<text stroke="#444" stroke-width="0.13" transform="translate(217.29 235.2) rotate(45)" font-size="7.95" fill="#444" text-anchor="end">Chromothripsis</text>
<path d="M231.51 234V236.6" stroke="#444" stroke-width="0.8"/>
<text stroke="#444" stroke-width="0.13" transform="translate(231.31 235.2) rotate(45)" font-size="7.95" fill="#444" text-anchor="end">Rigma</text>
<path d="M245.53 234V236.6" stroke="#444" stroke-width="0.8"/>
<text stroke="#444" stroke-width="0.13" transform="translate(245.33 235.2) rotate(45)" font-size="7.95" fill="#444" text-anchor="end">Pyrgo</text>
<rect x="112.8" y="239" width="13.1" height="12.85" fill="#e5e5e5"/>
<text stroke="#555" stroke-width="0.1" x="119.35" y="247.62" font-size="6.3" fill="#555" text-anchor="middle">181</text>
<rect x="126.82" y="239" width="13.1" height="12.85" fill="#318a1f"/>
<text x="133.37" y="244.23" font-size="3.8" fill="#fff" stroke="#fff" stroke-width="0.1" text-anchor="middle">116</text>
<text x="133.37" y="249.53" font-size="3.8" fill="#fff" stroke="#fff" stroke-width="0.1" text-anchor="middle">101.5</text>
<rect x="140.84" y="239" width="13.1" height="12.85" fill="#c6fcc6"/>
<text x="147.39" y="244.23" font-size="3.8" fill="#333" stroke="#333" stroke-width="0.1" text-anchor="middle">66</text>
<text x="147.39" y="249.53" font-size="3.8" fill="#333" stroke="#333" stroke-width="0.1" text-anchor="middle">89.7</text>
<rect x="154.86" y="239" width="13.1" height="12.85" fill="#318a1f"/>
<text x="161.41" y="244.23" font-size="3.8" fill="#fff" stroke="#fff" stroke-width="0.1" text-anchor="middle">7</text>
<text x="161.41" y="249.53" font-size="3.8" fill="#fff" stroke="#fff" stroke-width="0.1" text-anchor="middle">3.8</text>
<rect x="182.9" y="239" width="13.1" height="12.85" fill="#318a1f"/>
<text x="189.45" y="244.23" font-size="3.8" fill="#fff" stroke="#fff" stroke-width="0.1" text-anchor="middle">21</text>
<text x="189.45" y="249.53" font-size="3.8" fill="#fff" stroke="#fff" stroke-width="0.1" text-anchor="middle">29.1</text>
<rect x="210.94" y="239" width="13.1" height="12.85" fill="#318a1f"/>
<text x="217.49" y="244.23" font-size="3.8" fill="#fff" stroke="#fff" stroke-width="0.1" text-anchor="middle">90</text>
<text x="217.49" y="249.53" font-size="3.8" fill="#fff" stroke="#fff" stroke-width="0.1" text-anchor="middle">71.6</text>
<rect x="224.96" y="239" width="13.1" height="12.85" fill="#318a1f"/>
<text x="231.51" y="244.23" font-size="3.8" fill="#fff" stroke="#fff" stroke-width="0.1" text-anchor="middle">40</text>
<text x="231.51" y="249.53" font-size="3.8" fill="#fff" stroke="#fff" stroke-width="0.1" text-anchor="middle">34.6</text>
<rect x="238.98" y="239" width="13.1" height="12.85" fill="#318a1f"/>
<text x="245.53" y="244.23" font-size="3.8" fill="#fff" stroke="#fff" stroke-width="0.1" text-anchor="middle">58</text>
<text x="245.53" y="249.53" font-size="3.8" fill="#fff" stroke="#fff" stroke-width="0.1" text-anchor="middle">51.4</text>
<rect x="112.8" y="252.97" width="13.1" height="12.85" fill="#318a1f"/>
<rect x="126.82" y="252.97" width="13.1" height="12.85" fill="#e5e5e5"/>
<text stroke="#555" stroke-width="0.1" x="133.37" y="261.59" font-size="6.3" fill="#555" text-anchor="middle">182</text>
<rect x="140.84" y="252.97" width="13.1" height="12.85" fill="#9a22ff"/>
<text x="147.39" y="258.19" font-size="3.8" fill="#fff" stroke="#fff" stroke-width="0.1" text-anchor="middle">78</text>
<text x="147.39" y="263.5" font-size="3.8" fill="#fff" stroke="#fff" stroke-width="0.1" text-anchor="middle">89.3</text>
<rect x="154.86" y="252.97" width="13.1" height="12.85" fill="#9a22ff"/>
<text x="161.41" y="258.19" font-size="3.8" fill="#fff" stroke="#fff" stroke-width="0.1" text-anchor="middle">2</text>
<text x="161.41" y="263.5" font-size="3.8" fill="#fff" stroke="#fff" stroke-width="0.1" text-anchor="middle">3.8</text>
<rect x="168.88" y="252.97" width="13.1" height="12.85" fill="#9a22ff"/>
<text x="175.43" y="258.19" font-size="3.8" fill="#fff" stroke="#fff" stroke-width="0.1" text-anchor="middle">7</text>
<text x="175.43" y="263.5" font-size="3.8" fill="#fff" stroke="#fff" stroke-width="0.1" text-anchor="middle">10.7</text>
<rect x="182.9" y="252.97" width="13.1" height="12.85" fill="#9a22ff"/>
<text x="189.45" y="258.19" font-size="3.8" fill="#fff" stroke="#fff" stroke-width="0.1" text-anchor="middle">21</text>
<text x="189.45" y="263.5" font-size="3.8" fill="#fff" stroke="#fff" stroke-width="0.1" text-anchor="middle">29.2</text>
<rect x="196.92" y="252.97" width="13.1" height="12.85" fill="#9a22ff"/>
<text x="203.47" y="258.19" font-size="3.8" fill="#fff" stroke="#fff" stroke-width="0.1" text-anchor="middle">30</text>
<text x="203.47" y="263.5" font-size="3.8" fill="#fff" stroke="#fff" stroke-width="0.1" text-anchor="middle">48.4</text>
<rect x="210.94" y="252.97" width="13.1" height="12.85" fill="#dac6f8"/>
<text x="217.49" y="258.19" font-size="3.8" fill="#333" stroke="#333" stroke-width="0.1" text-anchor="middle">68</text>
<text x="217.49" y="263.5" font-size="3.8" fill="#333" stroke="#333" stroke-width="0.1" text-anchor="middle">71.7</text>
<rect x="224.96" y="252.97" width="13.1" height="12.85" fill="#9a22ff"/>
<text x="231.51" y="258.19" font-size="3.8" fill="#fff" stroke="#fff" stroke-width="0.1" text-anchor="middle">27</text>
<text x="231.51" y="263.5" font-size="3.8" fill="#fff" stroke="#fff" stroke-width="0.1" text-anchor="middle">34.8</text>
<rect x="238.98" y="252.97" width="13.1" height="12.85" fill="#9a22ff"/>
<text x="245.53" y="258.19" font-size="3.8" fill="#fff" stroke="#fff" stroke-width="0.1" text-anchor="middle">43</text>
<text x="245.53" y="263.5" font-size="3.8" fill="#fff" stroke="#fff" stroke-width="0.1" text-anchor="middle">51.5</text>
<rect x="112.8" y="266.94" width="13.1" height="12.85" fill="#c6fcc6"/>
<rect x="126.82" y="266.94" width="13.1" height="12.85" fill="#9a22ff"/>
<rect x="140.84" y="266.94" width="13.1" height="12.85" fill="#e5e5e5"/>
<text stroke="#555" stroke-width="0.1" x="147.39" y="275.56" font-size="6.3" fill="#555" text-anchor="middle">159</text>
<rect x="154.86" y="266.94" width="13.1" height="12.85" fill="#c6fcc6"/>
<text x="161.41" y="272.17" font-size="3.8" fill="#333" stroke="#333" stroke-width="0.1" text-anchor="middle">4</text>
<text x="161.41" y="277.47" font-size="3.8" fill="#333" stroke="#333" stroke-width="0.1" text-anchor="middle">3.5</text>
<rect x="168.88" y="266.94" width="13.1" height="12.85" fill="#dac6f8"/>
<text x="175.43" y="272.17" font-size="3.8" fill="#333" stroke="#333" stroke-width="0.1" text-anchor="middle">6</text>
<text x="175.43" y="277.47" font-size="3.8" fill="#333" stroke="#333" stroke-width="0.1" text-anchor="middle">9.4</text>
<rect x="182.9" y="266.94" width="13.1" height="12.85" fill="#318a1f"/>
<text x="189.45" y="272.17" font-size="3.8" fill="#fff" stroke="#fff" stroke-width="0.1" text-anchor="middle">34</text>
<text x="189.45" y="277.47" font-size="3.8" fill="#fff" stroke="#fff" stroke-width="0.1" text-anchor="middle">25.4</text>
<rect x="196.92" y="266.94" width="13.1" height="12.85" fill="#c6fcc6"/>
<text x="203.47" y="272.17" font-size="3.8" fill="#333" stroke="#333" stroke-width="0.1" text-anchor="middle">48</text>
<text x="203.47" y="277.47" font-size="3.8" fill="#333" stroke="#333" stroke-width="0.1" text-anchor="middle">42.1</text>
<rect x="210.94" y="266.94" width="13.1" height="12.85" fill="#318a1f"/>
<text x="217.49" y="272.17" font-size="3.8" fill="#fff" stroke="#fff" stroke-width="0.1" text-anchor="middle">77</text>
<text x="217.49" y="277.47" font-size="3.8" fill="#fff" stroke="#fff" stroke-width="0.1" text-anchor="middle">62.7</text>
<rect x="224.96" y="266.94" width="13.1" height="12.85" fill="#c6fcc6"/>
<text x="231.51" y="272.17" font-size="3.8" fill="#333" stroke="#333" stroke-width="0.1" text-anchor="middle">34</text>
<text x="231.51" y="277.47" font-size="3.8" fill="#333" stroke="#333" stroke-width="0.1" text-anchor="middle">30.4</text>
<rect x="238.98" y="266.94" width="13.1" height="12.85" fill="#dac6f8"/>
<text x="245.53" y="272.17" font-size="3.8" fill="#333" stroke="#333" stroke-width="0.1" text-anchor="middle">30</text>
<text x="245.53" y="277.47" font-size="3.8" fill="#333" stroke="#333" stroke-width="0.1" text-anchor="middle">45.4</text>
<rect x="112.8" y="280.91" width="13.1" height="12.85" fill="#318a1f"/>
<rect x="126.82" y="280.91" width="13.1" height="12.85" fill="#9a22ff"/>
<rect x="140.84" y="280.91" width="13.1" height="12.85" fill="#c6fcc6"/>
<rect x="154.86" y="280.91" width="13.1" height="12.85" fill="#e5e5e5"/>
<text stroke="#555" stroke-width="0.1" x="161.41" y="289.54" font-size="6.3" fill="#555" text-anchor="middle">7</text>
<rect x="196.92" y="280.91" width="13.1" height="12.85" fill="#c6fcc6"/>
<text x="203.47" y="286.14" font-size="3.8" fill="#333" stroke="#333" stroke-width="0.1" text-anchor="middle">6</text>
<text x="203.47" y="291.44" font-size="3.8" fill="#333" stroke="#333" stroke-width="0.1" text-anchor="middle">1.8</text>
<rect x="210.94" y="280.91" width="13.1" height="12.85" fill="#318a1f"/>
<text x="217.49" y="286.14" font-size="3.8" fill="#fff" stroke="#fff" stroke-width="0.1" text-anchor="middle">7</text>
<text x="217.49" y="291.44" font-size="3.8" fill="#fff" stroke="#fff" stroke-width="0.1" text-anchor="middle">2.8</text>
<rect x="238.98" y="280.91" width="13.1" height="12.85" fill="#dac6f8"/>
<text x="245.53" y="286.14" font-size="3.8" fill="#333" stroke="#333" stroke-width="0.1" text-anchor="middle">1</text>
<text x="245.53" y="291.44" font-size="3.8" fill="#333" stroke="#333" stroke-width="0.1" text-anchor="middle">2</text>
<rect x="126.82" y="294.88" width="13.1" height="12.85" fill="#9a22ff"/>
<rect x="140.84" y="294.88" width="13.1" height="12.85" fill="#dac6f8"/>
<rect x="168.88" y="294.88" width="13.1" height="12.85" fill="#e5e5e5"/>
<text stroke="#555" stroke-width="0.1" x="175.43" y="303.5" font-size="6.3" fill="#555" text-anchor="middle">19</text>
<rect x="196.92" y="294.88" width="13.1" height="12.85" fill="#318a1f"/>
<text x="203.47" y="300.11" font-size="3.8" fill="#fff" stroke="#fff" stroke-width="0.1" text-anchor="middle">12</text>
<text x="203.47" y="305.41" font-size="3.8" fill="#fff" stroke="#fff" stroke-width="0.1" text-anchor="middle">5</text>
<rect x="210.94" y="294.88" width="13.1" height="12.85" fill="#c6fcc6"/>
<text x="217.49" y="300.11" font-size="3.8" fill="#333" stroke="#333" stroke-width="0.1" text-anchor="middle">10</text>
<text x="217.49" y="305.41" font-size="3.8" fill="#333" stroke="#333" stroke-width="0.1" text-anchor="middle">7.5</text>
<rect x="238.98" y="294.88" width="13.1" height="12.85" fill="#318a1f"/>
<text x="245.53" y="300.11" font-size="3.8" fill="#fff" stroke="#fff" stroke-width="0.1" text-anchor="middle">7</text>
<text x="245.53" y="305.41" font-size="3.8" fill="#fff" stroke="#fff" stroke-width="0.1" text-anchor="middle">5.4</text>
<rect x="112.8" y="308.85" width="13.1" height="12.85" fill="#318a1f"/>
<rect x="126.82" y="308.85" width="13.1" height="12.85" fill="#9a22ff"/>
<rect x="140.84" y="308.85" width="13.1" height="12.85" fill="#318a1f"/>
<rect x="182.9" y="308.85" width="13.1" height="12.85" fill="#e5e5e5"/>
<text stroke="#555" stroke-width="0.1" x="189.45" y="317.48" font-size="6.3" fill="#555" text-anchor="middle">62</text>
<rect x="196.92" y="308.85" width="13.1" height="12.85" fill="#318a1f"/>
<text x="203.47" y="314.08" font-size="3.8" fill="#fff" stroke="#fff" stroke-width="0.1" text-anchor="middle">26</text>
<text x="203.47" y="319.38" font-size="3.8" fill="#fff" stroke="#fff" stroke-width="0.1" text-anchor="middle">13.8</text>
<rect x="210.94" y="308.85" width="13.1" height="12.85" fill="#c6fcc6"/>
<text x="217.49" y="314.08" font-size="3.8" fill="#333" stroke="#333" stroke-width="0.1" text-anchor="middle">30</text>
<text x="217.49" y="319.38" font-size="3.8" fill="#333" stroke="#333" stroke-width="0.1" text-anchor="middle">28.5</text>
<rect x="238.98" y="308.85" width="13.1" height="12.85" fill="#318a1f"/>
<text x="245.53" y="314.08" font-size="3.8" fill="#fff" stroke="#fff" stroke-width="0.1" text-anchor="middle">16</text>
<text x="245.53" y="319.38" font-size="3.8" fill="#fff" stroke="#fff" stroke-width="0.1" text-anchor="middle">14.8</text>
<rect x="126.82" y="322.82" width="13.1" height="12.85" fill="#9a22ff"/>
<rect x="140.84" y="322.82" width="13.1" height="12.85" fill="#c6fcc6"/>
<rect x="154.86" y="322.82" width="13.1" height="12.85" fill="#c6fcc6"/>
<rect x="168.88" y="322.82" width="13.1" height="12.85" fill="#318a1f"/>
<rect x="182.9" y="322.82" width="13.1" height="12.85" fill="#318a1f"/>
<rect x="196.92" y="322.82" width="13.1" height="12.85" fill="#e5e5e5"/>
<text stroke="#555" stroke-width="0.1" x="203.47" y="331.44" font-size="6.3" fill="#555" text-anchor="middle">86</text>
<rect x="210.94" y="322.82" width="13.1" height="12.85" fill="#318a1f"/>
<text x="217.49" y="328.05" font-size="3.8" fill="#fff" stroke="#fff" stroke-width="0.1" text-anchor="middle">50</text>
<text x="217.49" y="333.35" font-size="3.8" fill="#fff" stroke="#fff" stroke-width="0.1" text-anchor="middle">34.1</text>
<rect x="224.96" y="322.82" width="13.1" height="12.85" fill="#c6fcc6"/>
<text x="231.51" y="328.05" font-size="3.8" fill="#333" stroke="#333" stroke-width="0.1" text-anchor="middle">26</text>
<text x="231.51" y="333.35" font-size="3.8" fill="#333" stroke="#333" stroke-width="0.1" text-anchor="middle">19.3</text>
<rect x="238.98" y="322.82" width="13.1" height="12.85" fill="#c6fcc6"/>
<text x="245.53" y="328.05" font-size="3.8" fill="#333" stroke="#333" stroke-width="0.1" text-anchor="middle">30</text>
<text x="245.53" y="333.35" font-size="3.8" fill="#333" stroke="#333" stroke-width="0.1" text-anchor="middle">24.4</text>
<rect x="112.8" y="336.79" width="13.1" height="12.85" fill="#318a1f"/>
<rect x="126.82" y="336.79" width="13.1" height="12.85" fill="#dac6f8"/>
<rect x="140.84" y="336.79" width="13.1" height="12.85" fill="#318a1f"/>
<rect x="154.86" y="336.79" width="13.1" height="12.85" fill="#318a1f"/>
<rect x="168.88" y="336.79" width="13.1" height="12.85" fill="#c6fcc6"/>
<rect x="182.9" y="336.79" width="13.1" height="12.85" fill="#c6fcc6"/>
<rect x="196.92" y="336.79" width="13.1" height="12.85" fill="#318a1f"/>
<rect x="210.94" y="336.79" width="13.1" height="12.85" fill="#e5e5e5"/>
<text stroke="#555" stroke-width="0.1" x="217.49" y="345.42" font-size="6.3" fill="#555" text-anchor="middle">128</text>
<rect x="224.96" y="336.79" width="13.1" height="12.85" fill="#c6fcc6"/>
<text x="231.51" y="342.02" font-size="3.8" fill="#333" stroke="#333" stroke-width="0.1" text-anchor="middle">36</text>
<text x="231.51" y="347.32" font-size="3.8" fill="#333" stroke="#333" stroke-width="0.1" text-anchor="middle">34.5</text>
<rect x="238.98" y="336.79" width="13.1" height="12.85" fill="#c6fcc6"/>
<text x="245.53" y="342.02" font-size="3.8" fill="#333" stroke="#333" stroke-width="0.1" text-anchor="middle">42</text>
<text x="245.53" y="347.32" font-size="3.8" fill="#333" stroke="#333" stroke-width="0.1" text-anchor="middle">36.2</text>
<rect x="112.8" y="350.76" width="13.1" height="12.85" fill="#318a1f"/>
<rect x="126.82" y="350.76" width="13.1" height="12.85" fill="#9a22ff"/>
<rect x="140.84" y="350.76" width="13.1" height="12.85" fill="#c6fcc6"/>
<rect x="196.92" y="350.76" width="13.1" height="12.85" fill="#c6fcc6"/>
<rect x="210.94" y="350.76" width="13.1" height="12.85" fill="#c6fcc6"/>
<rect x="224.96" y="350.76" width="13.1" height="12.85" fill="#e5e5e5"/>
<text stroke="#555" stroke-width="0.1" x="231.51" y="359.38" font-size="6.3" fill="#555" text-anchor="middle">62</text>
<rect x="238.98" y="350.76" width="13.1" height="12.85" fill="#318a1f"/>
<text x="245.53" y="355.99" font-size="3.8" fill="#fff" stroke="#fff" stroke-width="0.1" text-anchor="middle">30</text>
<text x="245.53" y="361.29" font-size="3.8" fill="#fff" stroke="#fff" stroke-width="0.1" text-anchor="middle">17.5</text>
<rect x="112.8" y="364.73" width="13.1" height="12.85" fill="#318a1f"/>
<rect x="126.82" y="364.73" width="13.1" height="12.85" fill="#9a22ff"/>
<rect x="140.84" y="364.73" width="13.1" height="12.85" fill="#dac6f8"/>
<rect x="154.86" y="364.73" width="13.1" height="12.85" fill="#dac6f8"/>
<rect x="168.88" y="364.73" width="13.1" height="12.85" fill="#318a1f"/>
<rect x="182.9" y="364.73" width="13.1" height="12.85" fill="#318a1f"/>
<rect x="196.92" y="364.73" width="13.1" height="12.85" fill="#c6fcc6"/>
<rect x="210.94" y="364.73" width="13.1" height="12.85" fill="#c6fcc6"/>
<rect x="224.96" y="364.73" width="13.1" height="12.85" fill="#318a1f"/>
<rect x="238.98" y="364.73" width="13.1" height="12.85" fill="#e5e5e5"/>
<text stroke="#555" stroke-width="0.1" x="245.53" y="373.36" font-size="6.3" fill="#555" text-anchor="middle">92</text>
<rect x="257.5" y="269.9" width="10.6" height="10.6" fill="#9a22ff" stroke="#3a3a5a" stroke-width="0.8"/>
<text stroke="#151515" stroke-width="0.13" x="273.1" y="277.7" font-size="8" fill="#151515">Strong negative correlation</text>
<rect x="257.5" y="288.5" width="10.6" height="10.6" fill="#dac6f8" stroke="#3a3a5a" stroke-width="0.8"/>
<text stroke="#151515" stroke-width="0.13" x="273.1" y="296.6" font-size="8" fill="#151515">Weak negative correlation</text>
<rect x="257.5" y="306.9" width="10.6" height="10.6" fill="#318a1f" stroke="#3a3a5a" stroke-width="0.8"/>
<text stroke="#151515" stroke-width="0.13" x="273.1" y="315.6" font-size="8" fill="#151515">Strong positive correlation</text>
<rect x="257.5" y="326.6" width="10.6" height="10.6" fill="#c6fcc6" stroke="#3a3a5a" stroke-width="0.8"/>
<text stroke="#151515" stroke-width="0.13" x="273.1" y="336.1" font-size="8" fill="#151515">Weak positive correlation</text>
<text x="419.3" y="216.9" font-size="12.4" fill="#111" stroke="#111" stroke-width="0.4" transform="translate(419.3 0) scale(0.84 1) translate(-419.3 0)">D</text>
<path d="M447.5 218.2V358.5H685" stroke="#4a4a4a" stroke-width="0.9" fill="none"/>
<path d="M445.8 224.3H447.5" stroke="#555" stroke-width="0.6"/>
<text stroke="#777" stroke-width="0.07" x="444.9" y="225.8" font-size="4.2" fill="#777" text-anchor="end">1.00</text>
<path d="M445.8 256.5H447.5" stroke="#555" stroke-width="0.6"/>
<text stroke="#777" stroke-width="0.07" x="444.9" y="258" font-size="4.2" fill="#777" text-anchor="end">0.75</text>
<path d="M445.8 288.7H447.5" stroke="#555" stroke-width="0.6"/>
<text stroke="#777" stroke-width="0.07" x="444.9" y="290.2" font-size="4.2" fill="#777" text-anchor="end">0.50</text>
<path d="M445.8 320.8H447.5" stroke="#555" stroke-width="0.6"/>
<text stroke="#777" stroke-width="0.07" x="444.9" y="322.3" font-size="4.2" fill="#777" text-anchor="end">0.25</text>
<path d="M445.8 353H447.5" stroke="#555" stroke-width="0.6"/>
<text stroke="#777" stroke-width="0.07" x="444.9" y="354.5" font-size="4.2" fill="#777" text-anchor="end">0.00</text>
<text stroke="#222" stroke-width="0.12" transform="translate(435.4 287) rotate(-90)" font-size="7.2" fill="#222" text-anchor="middle">Fraction of genome duplicated</text>
<path d="M481.5 358.5V360.3" stroke="#333" stroke-width="0.7"/>
<text stroke="#222" stroke-width="0.11" x="481.5" y="365.9" font-size="7.1" fill="#222" text-anchor="middle">Breakage</text>
<text stroke="#222" stroke-width="0.11" x="481.5" y="373.8" font-size="7.1" fill="#222" text-anchor="middle">fusion bridges</text>
<path d="M538.2 358.5V360.3" stroke="#333" stroke-width="0.7"/>
<text stroke="#222" stroke-width="0.11" x="538.2" y="365.9" font-size="7.1" fill="#222" text-anchor="middle">No breakage</text>
<text stroke="#222" stroke-width="0.11" x="538.2" y="373.8" font-size="7.1" fill="#222" text-anchor="middle">fusion bridges</text>
<path d="M594.6 358.5V360.3" stroke="#333" stroke-width="0.7"/>
<text stroke="#222" stroke-width="0.11" x="594.6" y="366.1" font-size="7.1" fill="#222" text-anchor="middle">Chromothripsis</text>
<path d="M650.7 358.5V360.3" stroke="#333" stroke-width="0.7"/>
<text stroke="#222" stroke-width="0.11" x="650.7" y="366.1" font-size="7.1" fill="#222" text-anchor="middle">No chromothripsis</text>
<path d="M497.25 224.6C498.02 225.4 500.47 227.33 501.9 229.4C503.33 231.47 505.01 234.62 505.85 237C506.69 239.38 507.05 241.48 506.95 243.7C506.85 245.92 506.2 248.25 505.25 250.3C504.3 252.35 502.91 253.47 501.25 256C499.59 258.53 497.05 262.33 495.3 265.5C493.55 268.67 491.88 272.58 490.75 275C489.62 277.42 489.22 278.42 488.55 280C487.88 281.58 487.26 283.05 486.75 284.5C486.24 285.95 485.83 285.83 485.5 288.7C485.17 291.57 484.75 295.93 484.75 301.7C484.75 307.47 485.29 317.92 485.5 323.3C485.71 328.68 485.81 330.93 486 334C486.19 337.07 486.54 340.42 486.65 341.7L476.35 341.7C476.46 340.42 476.81 337.07 477 334C477.19 330.93 477.29 328.68 477.5 323.3C477.71 317.92 478.25 307.47 478.25 301.7C478.25 295.93 477.83 291.57 477.5 288.7C477.17 285.83 476.76 285.95 476.25 284.5C475.74 283.05 475.12 281.58 474.45 280C473.78 278.42 473.38 277.42 472.25 275C471.12 272.58 469.45 268.67 467.7 265.5C465.95 262.33 463.41 258.53 461.75 256C460.09 253.47 458.7 252.35 457.75 250.3C456.8 248.25 456.15 245.92 456.05 243.7C455.95 241.48 456.31 239.38 457.15 237C457.99 234.62 459.67 231.47 461.1 229.4C462.53 227.33 464.98 225.4 465.75 224.6Z" fill="none" stroke="#555" stroke-width="0.7"/>
<path d="M551.8 223.9C552.18 225.72 553.92 231.33 554.05 234.8C554.18 238.27 553.39 241.4 552.6 244.7C551.81 248 550.38 251.3 549.3 254.6C548.22 257.9 547.03 261.18 546.1 264.5C545.17 267.82 544.31 271.92 543.75 274.5C543.19 277.08 543.01 278.35 542.75 280C542.49 281.65 542.26 282.63 542.2 284.4C542.14 286.17 542.22 287.82 542.4 290.6C542.58 293.38 542.42 297.58 543.3 301.1C544.18 304.62 546.35 308.18 547.7 311.7C549.05 315.22 550.69 319.03 551.4 322.2C552.11 325.37 552.48 327.53 551.95 330.7C551.43 333.87 549.58 337.58 548.25 341.2C546.92 344.82 544.71 350.53 544 352.4L532.4 352.4C531.69 350.53 529.48 344.82 528.15 341.2C526.83 337.58 524.98 333.87 524.45 330.7C523.93 327.53 524.29 325.37 525 322.2C525.71 319.03 527.35 315.22 528.7 311.7C530.05 308.18 532.22 304.62 533.1 301.1C533.98 297.58 533.82 293.38 534 290.6C534.18 287.82 534.26 286.17 534.2 284.4C534.14 282.63 533.91 281.65 533.65 280C533.39 278.35 533.21 277.08 532.65 274.5C532.09 271.92 531.23 267.82 530.3 264.5C529.38 261.18 528.18 257.9 527.1 254.6C526.02 251.3 524.59 248 523.8 244.7C523.01 241.4 522.22 238.27 522.35 234.8C522.48 231.33 524.23 225.72 524.6 223.9Z" fill="none" stroke="#555" stroke-width="0.7"/>
<path d="M609.4 224.3C610.28 225.38 613.25 228.4 614.7 230.8C616.15 233.2 617.5 236.38 618.1 238.7C618.7 241.02 618.75 242.72 618.3 244.7C617.85 246.68 616.88 248.3 615.4 250.6C613.92 252.9 611.05 255.53 609.4 258.5C607.75 261.47 606.62 265.1 605.5 268.4C604.38 271.7 603.37 276.03 602.7 278.3C602.03 280.57 601.95 280.35 601.5 282C601.05 283.65 600.41 286.42 600 288.2C599.59 289.98 599.35 290.55 599.05 292.7C598.75 294.85 598.12 297.95 598.2 301.1C598.28 304.25 598.97 307.73 599.55 311.6C600.13 315.47 601.51 320.43 601.7 324.3C601.89 328.17 601.14 332 600.7 334.8C600.26 337.6 599.33 340.05 599.05 341.1L590.15 341.1C589.88 340.05 588.94 337.6 588.5 334.8C588.06 332 587.31 328.17 587.5 324.3C587.69 320.43 589.07 315.47 589.65 311.6C590.23 307.73 590.92 304.25 591 301.1C591.08 297.95 590.45 294.85 590.15 292.7C589.85 290.55 589.61 289.98 589.2 288.2C588.79 286.42 588.15 283.65 587.7 282C587.25 280.35 587.17 280.57 586.5 278.3C585.83 276.03 584.82 271.7 583.7 268.4C582.58 265.1 581.45 261.47 579.8 258.5C578.15 255.53 575.28 252.9 573.8 250.6C572.32 248.3 571.35 246.68 570.9 244.7C570.45 242.72 570.5 241.02 571.1 238.7C571.7 236.38 573.05 233.2 574.5 230.8C575.95 228.4 578.92 225.38 579.8 224.3Z" fill="none" stroke="#555" stroke-width="0.7"/>
<path d="M662.4 223.9C662.85 225.72 664.86 231.33 665.1 234.8C665.34 238.27 664.48 241.42 663.85 244.7C663.22 247.98 662.19 251.22 661.3 254.5C660.41 257.78 659.37 261.1 658.5 264.4C657.63 267.7 656.69 271.7 656.1 274.3C655.51 276.9 655.24 278.35 654.95 280C654.66 281.65 654.44 282.45 654.35 284.2C654.26 285.95 654.04 287.68 654.4 290.5C654.76 293.32 655.53 297.58 656.5 301.1C657.47 304.62 659.01 308.08 660.2 311.6C661.39 315.12 662.95 319.03 663.65 322.2C664.35 325.37 664.83 327.45 664.4 330.6C663.97 333.75 662.19 337.58 661.05 341.1C659.91 344.62 658.13 349.93 657.55 351.7L643.85 351.7C643.27 349.93 641.49 344.62 640.35 341.1C639.21 337.58 637.43 333.75 637 330.6C636.57 327.45 637.05 325.37 637.75 322.2C638.45 319.03 640.01 315.12 641.2 311.6C642.39 308.08 643.93 304.62 644.9 301.1C645.87 297.58 646.64 293.32 647 290.5C647.36 287.68 647.14 285.95 647.05 284.2C646.96 282.45 646.74 281.65 646.45 280C646.16 278.35 645.89 276.9 645.3 274.3C644.71 271.7 643.77 267.7 642.9 264.4C642.03 261.1 640.99 257.78 640.1 254.5C639.21 251.22 638.18 247.98 637.55 244.7C636.92 241.42 636.06 238.27 636.3 234.8C636.54 231.33 638.55 225.72 639 223.9Z" fill="none" stroke="#555" stroke-width="0.7"/>
<circle cx="477.45" cy="226.28" r="1.15" fill="#430e6e"/>
<circle cx="476.54" cy="228.08" r="1.15" fill="#430e6e"/>
<circle cx="479.94" cy="227.45" r="1.15" fill="#430e6e"/>
<circle cx="481.59" cy="224.82" r="1.15" fill="#430e6e"/>
<circle cx="480.73" cy="224.71" r="1.15" fill="#430e6e"/>
<circle cx="476.75" cy="224.88" r="1.15" fill="#430e6e"/>
<circle cx="485.29" cy="226.83" r="1.15" fill="#430e6e"/>
<circle cx="478.29" cy="225.18" r="1.15" fill="#430e6e"/>
<circle cx="486.69" cy="227.95" r="1.15" fill="#430e6e"/>
<circle cx="480.3" cy="227.67" r="1.15" fill="#430e6e"/>
<circle cx="476.24" cy="229.87" r="1.15" fill="#430e6e"/>
<circle cx="479.06" cy="229.22" r="1.15" fill="#430e6e"/>
<circle cx="477.07" cy="225.29" r="1.15" fill="#430e6e"/>
<circle cx="485.17" cy="226.2" r="1.15" fill="#430e6e"/>
<circle cx="482.45" cy="225.49" r="1.15" fill="#430e6e"/>
<circle cx="480.02" cy="228.01" r="1.15" fill="#430e6e"/>
<circle cx="476.43" cy="227.51" r="1.15" fill="#430e6e"/>
<circle cx="478.09" cy="224.83" r="1.15" fill="#430e6e"/>
<circle cx="480.66" cy="240.21" r="1.15" fill="#430e6e"/>
<circle cx="482.49" cy="234.71" r="1.15" fill="#430e6e"/>
<circle cx="479.18" cy="236.8" r="1.15" fill="#430e6e"/>
<circle cx="483.81" cy="241.92" r="1.15" fill="#430e6e"/>
<circle cx="482.36" cy="233.66" r="1.15" fill="#430e6e"/>
<circle cx="485.85" cy="237.88" r="1.15" fill="#430e6e"/>
<circle cx="479.04" cy="240.94" r="1.15" fill="#430e6e"/>
<circle cx="477.07" cy="244.7" r="1.15" fill="#430e6e"/>
<circle cx="484.48" cy="236.27" r="1.15" fill="#430e6e"/>
<circle cx="481.37" cy="232.28" r="1.15" fill="#430e6e"/>
<circle cx="483.45" cy="230.59" r="1.15" fill="#430e6e"/>
<circle cx="482.35" cy="241.47" r="1.15" fill="#430e6e"/>
<circle cx="479.34" cy="243.13" r="1.15" fill="#430e6e"/>
<circle cx="482.59" cy="240.43" r="1.15" fill="#430e6e"/>
<circle cx="480.99" cy="238.7" r="1.15" fill="#430e6e"/>
<circle cx="486.66" cy="242.6" r="1.15" fill="#430e6e"/>
<circle cx="483.4" cy="237.11" r="1.15" fill="#430e6e"/>
<circle cx="483.84" cy="230.91" r="1.15" fill="#430e6e"/>
<circle cx="487.22" cy="239.71" r="1.15" fill="#430e6e"/>
<circle cx="479" cy="242.33" r="1.15" fill="#430e6e"/>
<circle cx="483.36" cy="249.24" r="1.15" fill="#430e6e"/>
<circle cx="481.08" cy="245.25" r="1.15" fill="#430e6e"/>
<circle cx="477.29" cy="246.85" r="1.15" fill="#430e6e"/>
<circle cx="484.45" cy="245.65" r="1.15" fill="#430e6e"/>
<circle cx="478.72" cy="246.42" r="1.15" fill="#430e6e"/>
<circle cx="485.59" cy="249.3" r="1.15" fill="#430e6e"/>
<circle cx="480.94" cy="245.89" r="1.15" fill="#430e6e"/>
<circle cx="485.72" cy="251.04" r="1.15" fill="#430e6e"/>
<circle cx="485.5" cy="254.01" r="1.15" fill="#430e6e"/>
<circle cx="480.57" cy="248.06" r="1.15" fill="#430e6e"/>
<circle cx="485.73" cy="248.95" r="1.15" fill="#430e6e"/>
<circle cx="477.66" cy="255.54" r="1.15" fill="#430e6e"/>
<circle cx="478.1" cy="256.3" r="1.15" fill="#430e6e"/>
<circle cx="479.9" cy="258" r="1.15" fill="#430e6e"/>
<circle cx="476.4" cy="263.1" r="1.15" fill="#430e6e"/>
<circle cx="481.6" cy="262.3" r="1.15" fill="#430e6e"/>
<circle cx="479" cy="264.9" r="1.15" fill="#430e6e"/>
<circle cx="485" cy="265.7" r="1.15" fill="#430e6e"/>
<circle cx="478.1" cy="268.3" r="1.15" fill="#430e6e"/>
<circle cx="483.3" cy="269.1" r="1.15" fill="#430e6e"/>
<circle cx="480.7" cy="271.7" r="1.15" fill="#430e6e"/>
<circle cx="484.1" cy="272.6" r="1.15" fill="#430e6e"/>
<circle cx="485.9" cy="270.9" r="1.15" fill="#430e6e"/>
<circle cx="483.3" cy="276.9" r="1.15" fill="#430e6e"/>
<circle cx="485" cy="278.6" r="1.15" fill="#430e6e"/>
<circle cx="481.6" cy="280.3" r="1.15" fill="#430e6e"/>
<circle cx="482.4" cy="282" r="1.15" fill="#430e6e"/>
<circle cx="486.7" cy="283.7" r="1.15" fill="#430e6e"/>
<circle cx="476.4" cy="296.6" r="1.15" fill="#430e6e"/>
<circle cx="486.3" cy="296.2" r="1.15" fill="#430e6e"/>
<circle cx="486" cy="304.6" r="1.15" fill="#430e6e"/>
<circle cx="479.4" cy="313.8" r="1.15" fill="#430e6e"/>
<circle cx="484" cy="315.7" r="1.15" fill="#430e6e"/>
<circle cx="484.8" cy="323.8" r="1.15" fill="#430e6e"/>
<circle cx="478.3" cy="327.2" r="1.15" fill="#430e6e"/>
<circle cx="479.8" cy="333.5" r="1.15" fill="#430e6e"/>
<circle cx="480.6" cy="335.5" r="1.15" fill="#430e6e"/>
<circle cx="476.8" cy="339.2" r="1.15" fill="#430e6e"/>
<circle cx="481.4" cy="341.2" r="1.15" fill="#430e6e"/>
<circle cx="591.22" cy="225.9" r="1.15" fill="#430e6e"/>
<circle cx="594.41" cy="226.33" r="1.15" fill="#430e6e"/>
<circle cx="591.61" cy="228.96" r="1.15" fill="#430e6e"/>
<circle cx="593.58" cy="224.63" r="1.15" fill="#430e6e"/>
<circle cx="595.44" cy="227.33" r="1.15" fill="#430e6e"/>
<circle cx="597" cy="231.65" r="1.15" fill="#430e6e"/>
<circle cx="596.08" cy="228.41" r="1.15" fill="#430e6e"/>
<circle cx="588.98" cy="229.6" r="1.15" fill="#430e6e"/>
<circle cx="598.13" cy="231.26" r="1.15" fill="#430e6e"/>
<circle cx="598.35" cy="231.07" r="1.15" fill="#430e6e"/>
<circle cx="593.33" cy="227.5" r="1.15" fill="#430e6e"/>
<circle cx="596.29" cy="225.37" r="1.15" fill="#430e6e"/>
<circle cx="589.15" cy="225.06" r="1.15" fill="#430e6e"/>
<circle cx="590.35" cy="226.14" r="1.15" fill="#430e6e"/>
<circle cx="588.96" cy="227.12" r="1.15" fill="#430e6e"/>
<circle cx="590.21" cy="224.6" r="1.15" fill="#430e6e"/>
<circle cx="592.88" cy="225.35" r="1.15" fill="#430e6e"/>
<circle cx="599.32" cy="224.79" r="1.15" fill="#430e6e"/>
<circle cx="590.17" cy="229.14" r="1.15" fill="#430e6e"/>
<circle cx="592.68" cy="226.47" r="1.15" fill="#430e6e"/>
<circle cx="589.85" cy="227.29" r="1.15" fill="#430e6e"/>
<circle cx="600.81" cy="230.88" r="1.15" fill="#430e6e"/>
<circle cx="594.4" cy="228.05" r="1.15" fill="#430e6e"/>
<circle cx="589.59" cy="225.24" r="1.15" fill="#430e6e"/>
<circle cx="591.64" cy="227.14" r="1.15" fill="#430e6e"/>
<circle cx="590.33" cy="230.73" r="1.15" fill="#430e6e"/>
<circle cx="600.28" cy="224.77" r="1.15" fill="#430e6e"/>
<circle cx="590.15" cy="228.51" r="1.15" fill="#430e6e"/>
<circle cx="588.64" cy="239.06" r="1.15" fill="#430e6e"/>
<circle cx="600.63" cy="238.87" r="1.15" fill="#430e6e"/>
<circle cx="597.07" cy="243.22" r="1.15" fill="#430e6e"/>
<circle cx="592.92" cy="235.39" r="1.15" fill="#430e6e"/>
<circle cx="598.03" cy="234.17" r="1.15" fill="#430e6e"/>
<circle cx="598.12" cy="238.92" r="1.15" fill="#430e6e"/>
<circle cx="591.11" cy="236.29" r="1.15" fill="#430e6e"/>
<circle cx="600.71" cy="242.55" r="1.15" fill="#430e6e"/>
<circle cx="598.46" cy="243.08" r="1.15" fill="#430e6e"/>
<circle cx="597.62" cy="242.64" r="1.15" fill="#430e6e"/>
<circle cx="594.82" cy="234.95" r="1.15" fill="#430e6e"/>
<circle cx="588.67" cy="236.62" r="1.15" fill="#430e6e"/>
<circle cx="591.82" cy="232.36" r="1.15" fill="#430e6e"/>
<circle cx="597.03" cy="235.37" r="1.15" fill="#430e6e"/>
<circle cx="593.94" cy="244.43" r="1.15" fill="#430e6e"/>
<circle cx="600.75" cy="244.18" r="1.15" fill="#430e6e"/>
<circle cx="592.89" cy="244.42" r="1.15" fill="#430e6e"/>
<circle cx="591.16" cy="234.87" r="1.15" fill="#430e6e"/>
<circle cx="590.88" cy="234.56" r="1.15" fill="#430e6e"/>
<circle cx="599.64" cy="240.11" r="1.15" fill="#430e6e"/>
<circle cx="594.34" cy="242.93" r="1.15" fill="#430e6e"/>
<circle cx="598.38" cy="240.49" r="1.15" fill="#430e6e"/>
<circle cx="596.62" cy="233.1" r="1.15" fill="#430e6e"/>
<circle cx="598.16" cy="243.83" r="1.15" fill="#430e6e"/>
<circle cx="594.32" cy="241.75" r="1.15" fill="#430e6e"/>
<circle cx="598.07" cy="247.14" r="1.15" fill="#430e6e"/>
<circle cx="598.21" cy="248.99" r="1.15" fill="#430e6e"/>
<circle cx="593.35" cy="256.66" r="1.15" fill="#430e6e"/>
<circle cx="599.96" cy="249.82" r="1.15" fill="#430e6e"/>
<circle cx="590.64" cy="253.7" r="1.15" fill="#430e6e"/>
<circle cx="590.41" cy="246.52" r="1.15" fill="#430e6e"/>
<circle cx="598.28" cy="255.86" r="1.15" fill="#430e6e"/>
<circle cx="598.52" cy="246.75" r="1.15" fill="#430e6e"/>
<circle cx="596.49" cy="256.76" r="1.15" fill="#430e6e"/>
<circle cx="595.18" cy="249.2" r="1.15" fill="#430e6e"/>
<circle cx="588.77" cy="246.57" r="1.15" fill="#430e6e"/>
<circle cx="596.4" cy="256.65" r="1.15" fill="#430e6e"/>
<circle cx="599.8" cy="251.32" r="1.15" fill="#430e6e"/>
<circle cx="599.06" cy="250.21" r="1.15" fill="#430e6e"/>
<circle cx="591.13" cy="254.91" r="1.15" fill="#430e6e"/>
<circle cx="592.12" cy="248.02" r="1.15" fill="#430e6e"/>
<circle cx="595.64" cy="247.89" r="1.15" fill="#430e6e"/>
<circle cx="592.9" cy="260.6" r="1.15" fill="#430e6e"/>
<circle cx="596.3" cy="262.3" r="1.15" fill="#430e6e"/>
<circle cx="598.9" cy="263.1" r="1.15" fill="#430e6e"/>
<circle cx="597.1" cy="267.4" r="1.15" fill="#430e6e"/>
<circle cx="589.4" cy="270" r="1.15" fill="#430e6e"/>
<circle cx="591.1" cy="271.7" r="1.15" fill="#430e6e"/>
<circle cx="594.6" cy="268.3" r="1.15" fill="#430e6e"/>
<circle cx="595.8" cy="276.9" r="1.15" fill="#430e6e"/>
<circle cx="597.5" cy="276.5" r="1.15" fill="#430e6e"/>
<circle cx="590.3" cy="277.7" r="1.15" fill="#430e6e"/>
<circle cx="588.6" cy="280.3" r="1.15" fill="#430e6e"/>
<circle cx="592.9" cy="281.1" r="1.15" fill="#430e6e"/>
<circle cx="595.4" cy="282" r="1.15" fill="#430e6e"/>
<circle cx="599.7" cy="282.9" r="1.15" fill="#430e6e"/>
<circle cx="593.7" cy="285.4" r="1.15" fill="#430e6e"/>
<circle cx="594.6" cy="284.3" r="1.15" fill="#430e6e"/>
<circle cx="593.7" cy="286.5" r="1.15" fill="#430e6e"/>
<circle cx="596.3" cy="288.6" r="1.15" fill="#430e6e"/>
<circle cx="589.9" cy="292" r="1.15" fill="#430e6e"/>
<circle cx="598.5" cy="295.4" r="1.15" fill="#430e6e"/>
<circle cx="592" cy="304.5" r="1.15" fill="#430e6e"/>
<circle cx="589.4" cy="316" r="1.15" fill="#430e6e"/>
<circle cx="590.6" cy="316.9" r="1.15" fill="#430e6e"/>
<circle cx="593.7" cy="315.1" r="1.15" fill="#430e6e"/>
<circle cx="597.1" cy="315.7" r="1.15" fill="#430e6e"/>
<circle cx="591.7" cy="326" r="1.15" fill="#430e6e"/>
<circle cx="590.3" cy="326.6" r="1.15" fill="#430e6e"/>
<circle cx="595.1" cy="326.8" r="1.15" fill="#430e6e"/>
<circle cx="599.7" cy="323.7" r="1.15" fill="#430e6e"/>
<circle cx="600.2" cy="325.4" r="1.15" fill="#430e6e"/>
<circle cx="599.2" cy="327.1" r="1.15" fill="#430e6e"/>
<circle cx="590.6" cy="329.7" r="1.15" fill="#430e6e"/>
<circle cx="596.3" cy="329.7" r="1.15" fill="#430e6e"/>
<circle cx="598.5" cy="330.6" r="1.15" fill="#430e6e"/>
<circle cx="588.6" cy="331.4" r="1.15" fill="#430e6e"/>
<circle cx="592.9" cy="332.8" r="1.15" fill="#430e6e"/>
<circle cx="594.6" cy="334.5" r="1.15" fill="#430e6e"/>
<circle cx="596.3" cy="334.9" r="1.15" fill="#430e6e"/>
<circle cx="597.1" cy="333.5" r="1.15" fill="#430e6e"/>
<circle cx="595.8" cy="336.6" r="1.15" fill="#430e6e"/>
<circle cx="593.7" cy="337.4" r="1.15" fill="#430e6e"/>
<circle cx="590.6" cy="340.3" r="1.15" fill="#430e6e"/>
<circle cx="594.6" cy="339.7" r="1.15" fill="#430e6e"/>
<circle cx="537.18" cy="225.04" r="1.05" fill="#bdbdbd"/>
<circle cx="543.37" cy="224.52" r="1.05" fill="#bdbdbd"/>
<circle cx="537.67" cy="225.42" r="1.05" fill="#bdbdbd"/>
<circle cx="543.29" cy="226.33" r="1.05" fill="#bdbdbd"/>
<circle cx="543.46" cy="225.68" r="1.05" fill="#bdbdbd"/>
<circle cx="538.6" cy="226.01" r="1.05" fill="#bdbdbd"/>
<circle cx="532.14" cy="226.09" r="1.05" fill="#bdbdbd"/>
<circle cx="534.21" cy="225.76" r="1.05" fill="#bdbdbd"/>
<circle cx="541.97" cy="224.02" r="1.05" fill="#bdbdbd"/>
<circle cx="537.87" cy="224.69" r="1.05" fill="#bdbdbd"/>
<circle cx="538.91" cy="226.9" r="1.05" fill="#bdbdbd"/>
<circle cx="538.43" cy="225.3" r="1.05" fill="#bdbdbd"/>
<circle cx="541.78" cy="226.22" r="1.05" fill="#bdbdbd"/>
<circle cx="538.96" cy="224.42" r="1.05" fill="#bdbdbd"/>
<circle cx="535.39" cy="224.99" r="1.05" fill="#bdbdbd"/>
<circle cx="538.3" cy="227.09" r="1.05" fill="#bdbdbd"/>
<circle cx="541.48" cy="226.25" r="1.05" fill="#bdbdbd"/>
<circle cx="537.48" cy="227.65" r="1.05" fill="#bdbdbd"/>
<circle cx="538.27" cy="226.45" r="1.05" fill="#bdbdbd"/>
<circle cx="540.63" cy="226.05" r="1.05" fill="#bdbdbd"/>
<circle cx="538.62" cy="225.81" r="1.05" fill="#bdbdbd"/>
<circle cx="543.76" cy="225.91" r="1.05" fill="#bdbdbd"/>
<circle cx="542.94" cy="226.8" r="1.05" fill="#bdbdbd"/>
<circle cx="535.17" cy="227.77" r="1.05" fill="#bdbdbd"/>
<circle cx="543.79" cy="226.24" r="1.05" fill="#bdbdbd"/>
<circle cx="533.63" cy="227.36" r="1.05" fill="#bdbdbd"/>
<circle cx="537.47" cy="224.49" r="1.05" fill="#bdbdbd"/>
<circle cx="534.93" cy="224.29" r="1.05" fill="#bdbdbd"/>
<circle cx="540.34" cy="224.29" r="1.05" fill="#bdbdbd"/>
<circle cx="543.2" cy="227.14" r="1.05" fill="#bdbdbd"/>
<circle cx="540.92" cy="224.62" r="1.05" fill="#bdbdbd"/>
<circle cx="533.7" cy="226.64" r="1.05" fill="#bdbdbd"/>
<circle cx="544.09" cy="227.53" r="1.05" fill="#bdbdbd"/>
<circle cx="543.9" cy="224.88" r="1.05" fill="#bdbdbd"/>
<circle cx="538.04" cy="225.59" r="1.05" fill="#bdbdbd"/>
<circle cx="542.39" cy="227.96" r="1.05" fill="#bdbdbd"/>
<circle cx="537.34" cy="224.65" r="1.05" fill="#bdbdbd"/>
<circle cx="536.17" cy="226.06" r="1.05" fill="#bdbdbd"/>
<circle cx="535.91" cy="224.78" r="1.05" fill="#bdbdbd"/>
<circle cx="532.15" cy="226.89" r="1.05" fill="#bdbdbd"/>
<circle cx="537.45" cy="234.65" r="1.05" fill="#bdbdbd"/>
<circle cx="536.08" cy="228.22" r="1.05" fill="#bdbdbd"/>
<circle cx="538.35" cy="235.49" r="1.05" fill="#bdbdbd"/>
<circle cx="544.31" cy="228.77" r="1.05" fill="#bdbdbd"/>
<circle cx="544.14" cy="237.46" r="1.05" fill="#bdbdbd"/>
<circle cx="535.25" cy="229.26" r="1.05" fill="#bdbdbd"/>
<circle cx="541.72" cy="228.48" r="1.05" fill="#bdbdbd"/>
<circle cx="533.53" cy="231.25" r="1.05" fill="#bdbdbd"/>
<circle cx="543.38" cy="233.07" r="1.05" fill="#bdbdbd"/>
<circle cx="535.16" cy="237.83" r="1.05" fill="#bdbdbd"/>
<circle cx="543.48" cy="229.79" r="1.05" fill="#bdbdbd"/>
<circle cx="540.73" cy="234.85" r="1.05" fill="#bdbdbd"/>
<circle cx="532.62" cy="229.07" r="1.05" fill="#bdbdbd"/>
<circle cx="537.26" cy="236.26" r="1.05" fill="#bdbdbd"/>
<circle cx="543.72" cy="228.87" r="1.05" fill="#bdbdbd"/>
<circle cx="542" cy="235.61" r="1.05" fill="#bdbdbd"/>
<circle cx="542.69" cy="229" r="1.05" fill="#bdbdbd"/>
<circle cx="542.77" cy="228.8" r="1.05" fill="#bdbdbd"/>
<circle cx="536.17" cy="233.45" r="1.05" fill="#bdbdbd"/>
<circle cx="543.58" cy="234.64" r="1.05" fill="#bdbdbd"/>
<circle cx="533.53" cy="231.21" r="1.05" fill="#bdbdbd"/>
<circle cx="534.9" cy="234.32" r="1.05" fill="#bdbdbd"/>
<circle cx="533.93" cy="229.31" r="1.05" fill="#bdbdbd"/>
<circle cx="534.44" cy="228.6" r="1.05" fill="#bdbdbd"/>
<circle cx="535.74" cy="231.74" r="1.05" fill="#bdbdbd"/>
<circle cx="535.55" cy="237.11" r="1.05" fill="#bdbdbd"/>
<circle cx="534.14" cy="234" r="1.05" fill="#bdbdbd"/>
<circle cx="532.13" cy="232.16" r="1.05" fill="#bdbdbd"/>
<circle cx="532.09" cy="231.01" r="1.05" fill="#bdbdbd"/>
<circle cx="538.84" cy="236.8" r="1.05" fill="#bdbdbd"/>
<circle cx="537.88" cy="230.27" r="1.05" fill="#bdbdbd"/>
<circle cx="533.24" cy="239.22" r="1.05" fill="#bdbdbd"/>
<circle cx="537.35" cy="237.83" r="1.05" fill="#bdbdbd"/>
<circle cx="542.42" cy="233.94" r="1.05" fill="#bdbdbd"/>
<circle cx="538.28" cy="232.72" r="1.05" fill="#bdbdbd"/>
<circle cx="544.28" cy="236.25" r="1.05" fill="#bdbdbd"/>
<circle cx="542.39" cy="232.11" r="1.05" fill="#bdbdbd"/>
<circle cx="539.91" cy="236.48" r="1.05" fill="#bdbdbd"/>
<circle cx="536.28" cy="232.86" r="1.05" fill="#bdbdbd"/>
<circle cx="533.54" cy="228.65" r="1.05" fill="#bdbdbd"/>
<circle cx="541.24" cy="228.85" r="1.05" fill="#bdbdbd"/>
<circle cx="533.96" cy="231.07" r="1.05" fill="#bdbdbd"/>
<circle cx="542.5" cy="229.01" r="1.05" fill="#bdbdbd"/>
<circle cx="540.35" cy="238.45" r="1.05" fill="#bdbdbd"/>
<circle cx="534.95" cy="231.38" r="1.05" fill="#bdbdbd"/>
<circle cx="537.69" cy="248.21" r="1.05" fill="#bdbdbd"/>
<circle cx="537.52" cy="244.41" r="1.05" fill="#bdbdbd"/>
<circle cx="544.02" cy="247.37" r="1.05" fill="#bdbdbd"/>
<circle cx="538.79" cy="267.23" r="1.05" fill="#bdbdbd"/>
<circle cx="544.07" cy="246.84" r="1.05" fill="#bdbdbd"/>
<circle cx="536.39" cy="248.67" r="1.05" fill="#bdbdbd"/>
<circle cx="536.71" cy="240.03" r="1.05" fill="#bdbdbd"/>
<circle cx="538.23" cy="253.29" r="1.05" fill="#bdbdbd"/>
<circle cx="538.26" cy="245.63" r="1.05" fill="#bdbdbd"/>
<circle cx="535.23" cy="240.14" r="1.05" fill="#bdbdbd"/>
<circle cx="536.93" cy="242.51" r="1.05" fill="#bdbdbd"/>
<circle cx="532.18" cy="241.17" r="1.05" fill="#bdbdbd"/>
<circle cx="534.83" cy="248.52" r="1.05" fill="#bdbdbd"/>
<circle cx="538.57" cy="256.4" r="1.05" fill="#bdbdbd"/>
<circle cx="540.19" cy="261.02" r="1.05" fill="#bdbdbd"/>
<circle cx="542.98" cy="260.05" r="1.05" fill="#bdbdbd"/>
<circle cx="536.01" cy="250.91" r="1.05" fill="#bdbdbd"/>
<circle cx="533.78" cy="267.57" r="1.05" fill="#bdbdbd"/>
<circle cx="540" cy="260.28" r="1.05" fill="#bdbdbd"/>
<circle cx="542.42" cy="241.23" r="1.05" fill="#bdbdbd"/>
<circle cx="539.8" cy="264.97" r="1.05" fill="#bdbdbd"/>
<circle cx="542.13" cy="260.55" r="1.05" fill="#bdbdbd"/>
<circle cx="538.5" cy="243.9" r="1.05" fill="#bdbdbd"/>
<circle cx="542.42" cy="254.12" r="1.05" fill="#bdbdbd"/>
<circle cx="542.31" cy="262.53" r="1.05" fill="#bdbdbd"/>
<circle cx="543.15" cy="256.35" r="1.05" fill="#bdbdbd"/>
<circle cx="540.64" cy="259.12" r="1.05" fill="#bdbdbd"/>
<circle cx="532.29" cy="246.44" r="1.05" fill="#bdbdbd"/>
<circle cx="536.44" cy="243.73" r="1.05" fill="#bdbdbd"/>
<circle cx="542.43" cy="242.94" r="1.05" fill="#bdbdbd"/>
<circle cx="539.81" cy="255.64" r="1.05" fill="#bdbdbd"/>
<circle cx="540.48" cy="257.53" r="1.05" fill="#bdbdbd"/>
<circle cx="531.94" cy="253.7" r="1.05" fill="#bdbdbd"/>
<circle cx="541.33" cy="262.34" r="1.05" fill="#bdbdbd"/>
<circle cx="538.64" cy="254.08" r="1.05" fill="#bdbdbd"/>
<circle cx="532.73" cy="258.46" r="1.05" fill="#bdbdbd"/>
<circle cx="535.08" cy="260.63" r="1.05" fill="#bdbdbd"/>
<circle cx="535.25" cy="242.08" r="1.05" fill="#bdbdbd"/>
<circle cx="534.49" cy="260.42" r="1.05" fill="#bdbdbd"/>
<circle cx="544.19" cy="260.72" r="1.05" fill="#bdbdbd"/>
<circle cx="536.72" cy="253.83" r="1.05" fill="#bdbdbd"/>
<circle cx="540.51" cy="253.41" r="1.05" fill="#bdbdbd"/>
<circle cx="539.67" cy="261.48" r="1.05" fill="#bdbdbd"/>
<circle cx="532.88" cy="258" r="1.05" fill="#bdbdbd"/>
<circle cx="535.1" cy="244.13" r="1.05" fill="#bdbdbd"/>
<circle cx="535.74" cy="260.81" r="1.05" fill="#bdbdbd"/>
<circle cx="532.06" cy="255.9" r="1.05" fill="#bdbdbd"/>
<circle cx="535.29" cy="241.7" r="1.05" fill="#bdbdbd"/>
<circle cx="540.62" cy="258.82" r="1.05" fill="#bdbdbd"/>
<circle cx="535.56" cy="258.92" r="1.05" fill="#bdbdbd"/>
<circle cx="537.75" cy="254.46" r="1.05" fill="#bdbdbd"/>
<circle cx="533.39" cy="253.06" r="1.05" fill="#bdbdbd"/>
<circle cx="534.41" cy="265.02" r="1.05" fill="#bdbdbd"/>
<circle cx="543.7" cy="267.39" r="1.05" fill="#bdbdbd"/>
<circle cx="537.68" cy="240.49" r="1.05" fill="#bdbdbd"/>
<circle cx="542.41" cy="302.44" r="1.05" fill="#bdbdbd"/>
<circle cx="536.12" cy="286.88" r="1.05" fill="#bdbdbd"/>
<circle cx="542.21" cy="276.81" r="1.05" fill="#bdbdbd"/>
<circle cx="538.93" cy="276.85" r="1.05" fill="#bdbdbd"/>
<circle cx="538.42" cy="273.95" r="1.05" fill="#bdbdbd"/>
<circle cx="534.89" cy="308.02" r="1.05" fill="#bdbdbd"/>
<circle cx="538.28" cy="302.45" r="1.05" fill="#bdbdbd"/>
<circle cx="540.03" cy="305.25" r="1.05" fill="#bdbdbd"/>
<circle cx="541.78" cy="277.72" r="1.05" fill="#bdbdbd"/>
<circle cx="533.92" cy="288.42" r="1.05" fill="#bdbdbd"/>
<circle cx="538.1" cy="312.04" r="1.05" fill="#bdbdbd"/>
<circle cx="535.82" cy="316.51" r="1.05" fill="#bdbdbd"/>
<circle cx="536.33" cy="313.41" r="1.05" fill="#bdbdbd"/>
<circle cx="542.28" cy="315.16" r="1.05" fill="#bdbdbd"/>
<circle cx="541.21" cy="312.02" r="1.05" fill="#bdbdbd"/>
<circle cx="533.64" cy="320.39" r="1.05" fill="#bdbdbd"/>
<circle cx="540.76" cy="321.26" r="1.05" fill="#bdbdbd"/>
<circle cx="535.68" cy="321.02" r="1.05" fill="#bdbdbd"/>
<circle cx="536.91" cy="315.72" r="1.05" fill="#bdbdbd"/>
<circle cx="539.27" cy="321.99" r="1.05" fill="#bdbdbd"/>
<circle cx="537.34" cy="315.61" r="1.05" fill="#bdbdbd"/>
<circle cx="532.78" cy="314.75" r="1.05" fill="#bdbdbd"/>
<circle cx="542.22" cy="313.02" r="1.05" fill="#bdbdbd"/>
<circle cx="543.43" cy="314.86" r="1.05" fill="#bdbdbd"/>
<circle cx="535.25" cy="327.98" r="1.05" fill="#bdbdbd"/>
<circle cx="534.29" cy="334.26" r="1.05" fill="#bdbdbd"/>
<circle cx="543.95" cy="330.96" r="1.05" fill="#bdbdbd"/>
<circle cx="542.13" cy="343.22" r="1.05" fill="#bdbdbd"/>
<circle cx="543.41" cy="337.14" r="1.05" fill="#bdbdbd"/>
<circle cx="538.82" cy="344.58" r="1.05" fill="#bdbdbd"/>
<circle cx="532.52" cy="339.27" r="1.05" fill="#bdbdbd"/>
<circle cx="537.58" cy="339.58" r="1.05" fill="#bdbdbd"/>
<circle cx="540.02" cy="340.06" r="1.05" fill="#bdbdbd"/>
<circle cx="532.52" cy="328.87" r="1.05" fill="#bdbdbd"/>
<circle cx="533.5" cy="344.24" r="1.05" fill="#bdbdbd"/>
<circle cx="536.23" cy="333.33" r="1.05" fill="#bdbdbd"/>
<circle cx="541.21" cy="329.15" r="1.05" fill="#bdbdbd"/>
<circle cx="535.18" cy="345.43" r="1.05" fill="#bdbdbd"/>
<circle cx="535.69" cy="337.74" r="1.05" fill="#bdbdbd"/>
<circle cx="536.87" cy="335.38" r="1.05" fill="#bdbdbd"/>
<circle cx="533.94" cy="326.02" r="1.05" fill="#bdbdbd"/>
<circle cx="543.32" cy="326.99" r="1.05" fill="#bdbdbd"/>
<circle cx="534.67" cy="333.93" r="1.05" fill="#bdbdbd"/>
<circle cx="544.46" cy="343.75" r="1.05" fill="#bdbdbd"/>
<circle cx="533.66" cy="332.8" r="1.05" fill="#bdbdbd"/>
<circle cx="533.04" cy="326.62" r="1.05" fill="#bdbdbd"/>
<circle cx="533.05" cy="330.21" r="1.05" fill="#bdbdbd"/>
<circle cx="535.16" cy="327.74" r="1.05" fill="#bdbdbd"/>
<circle cx="543.08" cy="335.67" r="1.05" fill="#bdbdbd"/>
<circle cx="537.1" cy="339.99" r="1.05" fill="#bdbdbd"/>
<circle cx="538.5" cy="331.93" r="1.05" fill="#bdbdbd"/>
<circle cx="536.16" cy="331.04" r="1.05" fill="#bdbdbd"/>
<circle cx="535.4" cy="323.49" r="1.05" fill="#bdbdbd"/>
<circle cx="533.49" cy="345.22" r="1.05" fill="#bdbdbd"/>
<circle cx="539.83" cy="334.08" r="1.05" fill="#bdbdbd"/>
<circle cx="534.62" cy="342.71" r="1.05" fill="#bdbdbd"/>
<circle cx="535.03" cy="328.5" r="1.05" fill="#bdbdbd"/>
<circle cx="537.52" cy="331.59" r="1.05" fill="#bdbdbd"/>
<circle cx="542.59" cy="344.89" r="1.05" fill="#bdbdbd"/>
<circle cx="532.17" cy="342.95" r="1.05" fill="#bdbdbd"/>
<circle cx="540.84" cy="322.77" r="1.05" fill="#bdbdbd"/>
<circle cx="537.86" cy="343.5" r="1.05" fill="#bdbdbd"/>
<circle cx="531.9" cy="336.09" r="1.05" fill="#bdbdbd"/>
<circle cx="543.58" cy="331.4" r="1.05" fill="#bdbdbd"/>
<circle cx="542.68" cy="341.81" r="1.05" fill="#bdbdbd"/>
<circle cx="535.03" cy="345.33" r="1.05" fill="#bdbdbd"/>
<circle cx="533.85" cy="324.62" r="1.05" fill="#bdbdbd"/>
<circle cx="540.49" cy="334.54" r="1.05" fill="#bdbdbd"/>
<circle cx="540.99" cy="344.6" r="1.05" fill="#bdbdbd"/>
<circle cx="541.54" cy="337.54" r="1.05" fill="#bdbdbd"/>
<circle cx="538.85" cy="332.98" r="1.05" fill="#bdbdbd"/>
<circle cx="541.76" cy="322.95" r="1.05" fill="#bdbdbd"/>
<circle cx="543.49" cy="327.58" r="1.05" fill="#bdbdbd"/>
<circle cx="535.73" cy="337.49" r="1.05" fill="#bdbdbd"/>
<circle cx="535.07" cy="325.07" r="1.05" fill="#bdbdbd"/>
<circle cx="540.7" cy="337.27" r="1.05" fill="#bdbdbd"/>
<circle cx="532.79" cy="324.69" r="1.05" fill="#bdbdbd"/>
<circle cx="539.24" cy="334.59" r="1.05" fill="#bdbdbd"/>
<circle cx="534.72" cy="331.31" r="1.05" fill="#bdbdbd"/>
<circle cx="532.03" cy="336.43" r="1.05" fill="#bdbdbd"/>
<circle cx="537.7" cy="329.24" r="1.05" fill="#bdbdbd"/>
<circle cx="540.02" cy="345.01" r="1.05" fill="#bdbdbd"/>
<circle cx="537.89" cy="343.21" r="1.05" fill="#bdbdbd"/>
<circle cx="535.01" cy="327.63" r="1.05" fill="#bdbdbd"/>
<circle cx="540.78" cy="345.05" r="1.05" fill="#bdbdbd"/>
<circle cx="532.17" cy="329.38" r="1.05" fill="#bdbdbd"/>
<circle cx="540.4" cy="333.96" r="1.05" fill="#bdbdbd"/>
<circle cx="535.14" cy="332.08" r="1.05" fill="#bdbdbd"/>
<circle cx="543.56" cy="338.02" r="1.05" fill="#bdbdbd"/>
<circle cx="532.33" cy="327.44" r="1.05" fill="#bdbdbd"/>
<circle cx="537.2" cy="330.11" r="1.05" fill="#bdbdbd"/>
<circle cx="534.4" cy="338.38" r="1.05" fill="#bdbdbd"/>
<circle cx="541.21" cy="341.13" r="1.05" fill="#bdbdbd"/>
<circle cx="534.49" cy="334.12" r="1.05" fill="#bdbdbd"/>
<circle cx="535.83" cy="345.28" r="1.05" fill="#bdbdbd"/>
<circle cx="534.81" cy="341.68" r="1.05" fill="#bdbdbd"/>
<circle cx="541.48" cy="327.31" r="1.05" fill="#bdbdbd"/>
<circle cx="543.89" cy="329.08" r="1.05" fill="#bdbdbd"/>
<circle cx="534.26" cy="333.9" r="1.05" fill="#bdbdbd"/>
<circle cx="537.15" cy="327.36" r="1.05" fill="#bdbdbd"/>
<circle cx="543.85" cy="337.97" r="1.05" fill="#bdbdbd"/>
<circle cx="536.86" cy="325.51" r="1.05" fill="#bdbdbd"/>
<circle cx="544.17" cy="327.11" r="1.05" fill="#bdbdbd"/>
<circle cx="532.55" cy="325.41" r="1.05" fill="#bdbdbd"/>
<circle cx="649.36" cy="224.24" r="1.05" fill="#bdbdbd"/>
<circle cx="655.53" cy="227.59" r="1.05" fill="#bdbdbd"/>
<circle cx="656.97" cy="226.93" r="1.05" fill="#bdbdbd"/>
<circle cx="648.55" cy="227.73" r="1.05" fill="#bdbdbd"/>
<circle cx="656.19" cy="224.74" r="1.05" fill="#bdbdbd"/>
<circle cx="644.8" cy="226.99" r="1.05" fill="#bdbdbd"/>
<circle cx="649.17" cy="226.66" r="1.05" fill="#bdbdbd"/>
<circle cx="648.58" cy="225.5" r="1.05" fill="#bdbdbd"/>
<circle cx="644.44" cy="224.68" r="1.05" fill="#bdbdbd"/>
<circle cx="648.83" cy="225.12" r="1.05" fill="#bdbdbd"/>
<circle cx="645.96" cy="227.82" r="1.05" fill="#bdbdbd"/>
<circle cx="647.01" cy="227.86" r="1.05" fill="#bdbdbd"/>
<circle cx="654.75" cy="225.43" r="1.05" fill="#bdbdbd"/>
<circle cx="649.85" cy="227.29" r="1.05" fill="#bdbdbd"/>
<circle cx="650.37" cy="224.2" r="1.05" fill="#bdbdbd"/>
<circle cx="655.99" cy="225.49" r="1.05" fill="#bdbdbd"/>
<circle cx="648.99" cy="224.77" r="1.05" fill="#bdbdbd"/>
<circle cx="644.78" cy="227.59" r="1.05" fill="#bdbdbd"/>
<circle cx="654.63" cy="225.64" r="1.05" fill="#bdbdbd"/>
<circle cx="644.91" cy="227.07" r="1.05" fill="#bdbdbd"/>
<circle cx="645.19" cy="224.14" r="1.05" fill="#bdbdbd"/>
<circle cx="647.64" cy="227.68" r="1.05" fill="#bdbdbd"/>
<circle cx="655.72" cy="226.99" r="1.05" fill="#bdbdbd"/>
<circle cx="647.83" cy="225.36" r="1.05" fill="#bdbdbd"/>
<circle cx="652.17" cy="227.83" r="1.05" fill="#bdbdbd"/>
<circle cx="653.43" cy="225.05" r="1.05" fill="#bdbdbd"/>
<circle cx="647.87" cy="225.27" r="1.05" fill="#bdbdbd"/>
<circle cx="653.92" cy="224.02" r="1.05" fill="#bdbdbd"/>
<circle cx="652.39" cy="227.67" r="1.05" fill="#bdbdbd"/>
<circle cx="644.71" cy="227.77" r="1.05" fill="#bdbdbd"/>
<circle cx="650.39" cy="231.98" r="1.05" fill="#bdbdbd"/>
<circle cx="656.42" cy="244.27" r="1.05" fill="#bdbdbd"/>
<circle cx="647.56" cy="234.57" r="1.05" fill="#bdbdbd"/>
<circle cx="650.62" cy="235.31" r="1.05" fill="#bdbdbd"/>
<circle cx="646.71" cy="243.78" r="1.05" fill="#bdbdbd"/>
<circle cx="653.7" cy="241.64" r="1.05" fill="#bdbdbd"/>
<circle cx="654.14" cy="241.99" r="1.05" fill="#bdbdbd"/>
<circle cx="648.53" cy="238.32" r="1.05" fill="#bdbdbd"/>
<circle cx="648.96" cy="233.43" r="1.05" fill="#bdbdbd"/>
<circle cx="645.4" cy="241.3" r="1.05" fill="#bdbdbd"/>
<circle cx="653.89" cy="231.35" r="1.05" fill="#bdbdbd"/>
<circle cx="645.22" cy="232.2" r="1.05" fill="#bdbdbd"/>
<circle cx="651.36" cy="228.58" r="1.05" fill="#bdbdbd"/>
<circle cx="656.75" cy="233.54" r="1.05" fill="#bdbdbd"/>
<circle cx="656.85" cy="243.02" r="1.05" fill="#bdbdbd"/>
<circle cx="645.46" cy="232.5" r="1.05" fill="#bdbdbd"/>
<circle cx="650.68" cy="229.64" r="1.05" fill="#bdbdbd"/>
<circle cx="650.03" cy="240.07" r="1.05" fill="#bdbdbd"/>
<circle cx="649.65" cy="231.98" r="1.05" fill="#bdbdbd"/>
<circle cx="652.89" cy="238.55" r="1.05" fill="#bdbdbd"/>
<circle cx="655.07" cy="240.72" r="1.05" fill="#bdbdbd"/>
<circle cx="645.93" cy="239.3" r="1.05" fill="#bdbdbd"/>
<circle cx="648.1" cy="242.29" r="1.05" fill="#bdbdbd"/>
<circle cx="649.1" cy="237.64" r="1.05" fill="#bdbdbd"/>
<circle cx="646.91" cy="240.55" r="1.05" fill="#bdbdbd"/>
<circle cx="647.49" cy="232.21" r="1.05" fill="#bdbdbd"/>
<circle cx="655.54" cy="230.61" r="1.05" fill="#bdbdbd"/>
<circle cx="648.51" cy="237.83" r="1.05" fill="#bdbdbd"/>
<circle cx="656.9" cy="234.73" r="1.05" fill="#bdbdbd"/>
<circle cx="647.32" cy="236.62" r="1.05" fill="#bdbdbd"/>
<circle cx="652.63" cy="241.74" r="1.05" fill="#bdbdbd"/>
<circle cx="645.69" cy="244.85" r="1.05" fill="#bdbdbd"/>
<circle cx="654.72" cy="236.07" r="1.05" fill="#bdbdbd"/>
<circle cx="655.92" cy="242.29" r="1.05" fill="#bdbdbd"/>
<circle cx="648.1" cy="228.69" r="1.05" fill="#bdbdbd"/>
<circle cx="646.79" cy="230.03" r="1.05" fill="#bdbdbd"/>
<circle cx="651.75" cy="244.54" r="1.05" fill="#bdbdbd"/>
<circle cx="649.09" cy="243.81" r="1.05" fill="#bdbdbd"/>
<circle cx="650.06" cy="242.72" r="1.05" fill="#bdbdbd"/>
<circle cx="654.2" cy="232.42" r="1.05" fill="#bdbdbd"/>
<circle cx="645.73" cy="268.64" r="1.05" fill="#bdbdbd"/>
<circle cx="652.21" cy="259.9" r="1.05" fill="#bdbdbd"/>
<circle cx="649.05" cy="250.44" r="1.05" fill="#bdbdbd"/>
<circle cx="646.97" cy="248.53" r="1.05" fill="#bdbdbd"/>
<circle cx="651.95" cy="251.37" r="1.05" fill="#bdbdbd"/>
<circle cx="646.96" cy="261.29" r="1.05" fill="#bdbdbd"/>
<circle cx="648.52" cy="245.28" r="1.05" fill="#bdbdbd"/>
<circle cx="646.73" cy="261.96" r="1.05" fill="#bdbdbd"/>
<circle cx="646.96" cy="252.8" r="1.05" fill="#bdbdbd"/>
<circle cx="651.31" cy="264.88" r="1.05" fill="#bdbdbd"/>
<circle cx="645.68" cy="246.58" r="1.05" fill="#bdbdbd"/>
<circle cx="651.33" cy="254.88" r="1.05" fill="#bdbdbd"/>
<circle cx="645.55" cy="260.98" r="1.05" fill="#bdbdbd"/>
<circle cx="653.16" cy="249.09" r="1.05" fill="#bdbdbd"/>
<circle cx="647.97" cy="255.24" r="1.05" fill="#bdbdbd"/>
<circle cx="656.41" cy="252.69" r="1.05" fill="#bdbdbd"/>
<circle cx="651.54" cy="252.81" r="1.05" fill="#bdbdbd"/>
<circle cx="649.65" cy="253.93" r="1.05" fill="#bdbdbd"/>
<circle cx="656.96" cy="266.61" r="1.05" fill="#bdbdbd"/>
<circle cx="646.88" cy="254.09" r="1.05" fill="#bdbdbd"/>
<circle cx="646.97" cy="263.2" r="1.05" fill="#bdbdbd"/>
<circle cx="655.76" cy="245.15" r="1.05" fill="#bdbdbd"/>
<circle cx="654.74" cy="255.59" r="1.05" fill="#bdbdbd"/>
<circle cx="655.52" cy="255.16" r="1.05" fill="#bdbdbd"/>
<circle cx="646.45" cy="256.52" r="1.05" fill="#bdbdbd"/>
<circle cx="651.35" cy="245.37" r="1.05" fill="#bdbdbd"/>
<circle cx="655.86" cy="261.02" r="1.05" fill="#bdbdbd"/>
<circle cx="652.24" cy="247.23" r="1.05" fill="#bdbdbd"/>
<circle cx="650.76" cy="254.27" r="1.05" fill="#bdbdbd"/>
<circle cx="647.97" cy="248.65" r="1.05" fill="#bdbdbd"/>
<circle cx="656.06" cy="258.03" r="1.05" fill="#bdbdbd"/>
<circle cx="650.58" cy="247.72" r="1.05" fill="#bdbdbd"/>
<circle cx="656.58" cy="265.12" r="1.05" fill="#bdbdbd"/>
<circle cx="646" cy="249.93" r="1.05" fill="#bdbdbd"/>
<circle cx="656.69" cy="268.58" r="1.05" fill="#bdbdbd"/>
<circle cx="646.68" cy="286.9" r="1.05" fill="#bdbdbd"/>
<circle cx="649.69" cy="302.42" r="1.05" fill="#bdbdbd"/>
<circle cx="651.78" cy="301.65" r="1.05" fill="#bdbdbd"/>
<circle cx="647.64" cy="298.86" r="1.05" fill="#bdbdbd"/>
<circle cx="648.2" cy="297.5" r="1.05" fill="#bdbdbd"/>
<circle cx="653.82" cy="284.16" r="1.05" fill="#bdbdbd"/>
<circle cx="647.85" cy="299.02" r="1.05" fill="#bdbdbd"/>
<circle cx="649.5" cy="312.96" r="1.05" fill="#bdbdbd"/>
<circle cx="649.3" cy="315.66" r="1.05" fill="#bdbdbd"/>
<circle cx="647.66" cy="312.11" r="1.05" fill="#bdbdbd"/>
<circle cx="655.47" cy="317.52" r="1.05" fill="#bdbdbd"/>
<circle cx="651.45" cy="311.37" r="1.05" fill="#bdbdbd"/>
<circle cx="645.16" cy="317.82" r="1.05" fill="#bdbdbd"/>
<circle cx="646.11" cy="318.54" r="1.05" fill="#bdbdbd"/>
<circle cx="651.3" cy="316.4" r="1.05" fill="#bdbdbd"/>
<circle cx="648.37" cy="316.64" r="1.05" fill="#bdbdbd"/>
<circle cx="651.69" cy="314.78" r="1.05" fill="#bdbdbd"/>
<circle cx="652.7" cy="331.07" r="1.05" fill="#bdbdbd"/>
<circle cx="649.92" cy="331.62" r="1.05" fill="#bdbdbd"/>
<circle cx="652.2" cy="320.61" r="1.05" fill="#bdbdbd"/>
<circle cx="647.36" cy="332.73" r="1.05" fill="#bdbdbd"/>
<circle cx="654.23" cy="339.85" r="1.05" fill="#bdbdbd"/>
<circle cx="646.66" cy="331.92" r="1.05" fill="#bdbdbd"/>
<circle cx="645.75" cy="332.3" r="1.05" fill="#bdbdbd"/>
<circle cx="649.83" cy="323.34" r="1.05" fill="#bdbdbd"/>
<circle cx="649.97" cy="322.38" r="1.05" fill="#bdbdbd"/>
<circle cx="644.91" cy="333.26" r="1.05" fill="#bdbdbd"/>
<circle cx="645.44" cy="336.55" r="1.05" fill="#bdbdbd"/>
<circle cx="654.2" cy="339.07" r="1.05" fill="#bdbdbd"/>
<circle cx="645.08" cy="333.3" r="1.05" fill="#bdbdbd"/>
<circle cx="649.16" cy="333.1" r="1.05" fill="#bdbdbd"/>
<circle cx="646.12" cy="344.72" r="1.05" fill="#bdbdbd"/>
<circle cx="656.95" cy="342.28" r="1.05" fill="#bdbdbd"/>
<circle cx="654.67" cy="339.03" r="1.05" fill="#bdbdbd"/>
<circle cx="656.77" cy="325.04" r="1.05" fill="#bdbdbd"/>
<circle cx="656.45" cy="332.79" r="1.05" fill="#bdbdbd"/>
<circle cx="646.48" cy="343.82" r="1.05" fill="#bdbdbd"/>
<circle cx="656.13" cy="340.5" r="1.05" fill="#bdbdbd"/>
<circle cx="648.82" cy="321.7" r="1.05" fill="#bdbdbd"/>
<circle cx="646.4" cy="339.66" r="1.05" fill="#bdbdbd"/>
<circle cx="647.86" cy="343.31" r="1.05" fill="#bdbdbd"/>
<circle cx="646.21" cy="341.21" r="1.05" fill="#bdbdbd"/>
<circle cx="655.99" cy="333.06" r="1.05" fill="#bdbdbd"/>
<circle cx="647.71" cy="325.42" r="1.05" fill="#bdbdbd"/>
<circle cx="648.42" cy="333.16" r="1.05" fill="#bdbdbd"/>
<circle cx="646.69" cy="320.96" r="1.05" fill="#bdbdbd"/>
<circle cx="656.2" cy="324.19" r="1.05" fill="#bdbdbd"/>
<circle cx="655.68" cy="337.67" r="1.05" fill="#bdbdbd"/>
<circle cx="654.29" cy="324.39" r="1.05" fill="#bdbdbd"/>
<circle cx="651.09" cy="322.99" r="1.05" fill="#bdbdbd"/>
<circle cx="648.93" cy="336.54" r="1.05" fill="#bdbdbd"/>
<circle cx="651.4" cy="342.7" r="1.05" fill="#bdbdbd"/>
<circle cx="655.52" cy="335.08" r="1.05" fill="#bdbdbd"/>
<circle cx="656.91" cy="322.72" r="1.05" fill="#bdbdbd"/>
<circle cx="649.37" cy="336.37" r="1.05" fill="#bdbdbd"/>
<circle cx="647.74" cy="340.74" r="1.05" fill="#bdbdbd"/>
<circle cx="651.67" cy="345.75" r="1.05" fill="#bdbdbd"/>
<circle cx="654.03" cy="329.37" r="1.05" fill="#bdbdbd"/>
<circle cx="646.63" cy="331.5" r="1.05" fill="#bdbdbd"/>
<circle cx="645.01" cy="339.33" r="1.05" fill="#bdbdbd"/>
<circle cx="647.6" cy="341.32" r="1.05" fill="#bdbdbd"/>
<circle cx="656.8" cy="336.62" r="1.05" fill="#bdbdbd"/>
<circle cx="652.76" cy="335.23" r="1.05" fill="#bdbdbd"/>
<circle cx="644.42" cy="328.13" r="1.05" fill="#bdbdbd"/>
<circle cx="646.28" cy="320.88" r="1.05" fill="#bdbdbd"/>
<circle cx="649.85" cy="336.02" r="1.05" fill="#bdbdbd"/>
<circle cx="655.68" cy="333.33" r="1.05" fill="#bdbdbd"/>
<circle cx="647.26" cy="323.43" r="1.05" fill="#bdbdbd"/>
<circle cx="644.68" cy="336.98" r="1.05" fill="#bdbdbd"/>
<circle cx="648.87" cy="320.07" r="1.05" fill="#bdbdbd"/>
<circle cx="648.9" cy="322.77" r="1.05" fill="#bdbdbd"/>
<circle cx="651.75" cy="325.83" r="1.05" fill="#bdbdbd"/>
<circle cx="646.97" cy="335.32" r="1.05" fill="#bdbdbd"/>
<circle cx="650.38" cy="336.22" r="1.05" fill="#bdbdbd"/>
<circle cx="656.2" cy="323.5" r="1.05" fill="#bdbdbd"/>
<circle cx="646.28" cy="326.33" r="1.05" fill="#bdbdbd"/>
<circle cx="652.44" cy="322.49" r="1.05" fill="#bdbdbd"/>
</svg>
</body></html>
